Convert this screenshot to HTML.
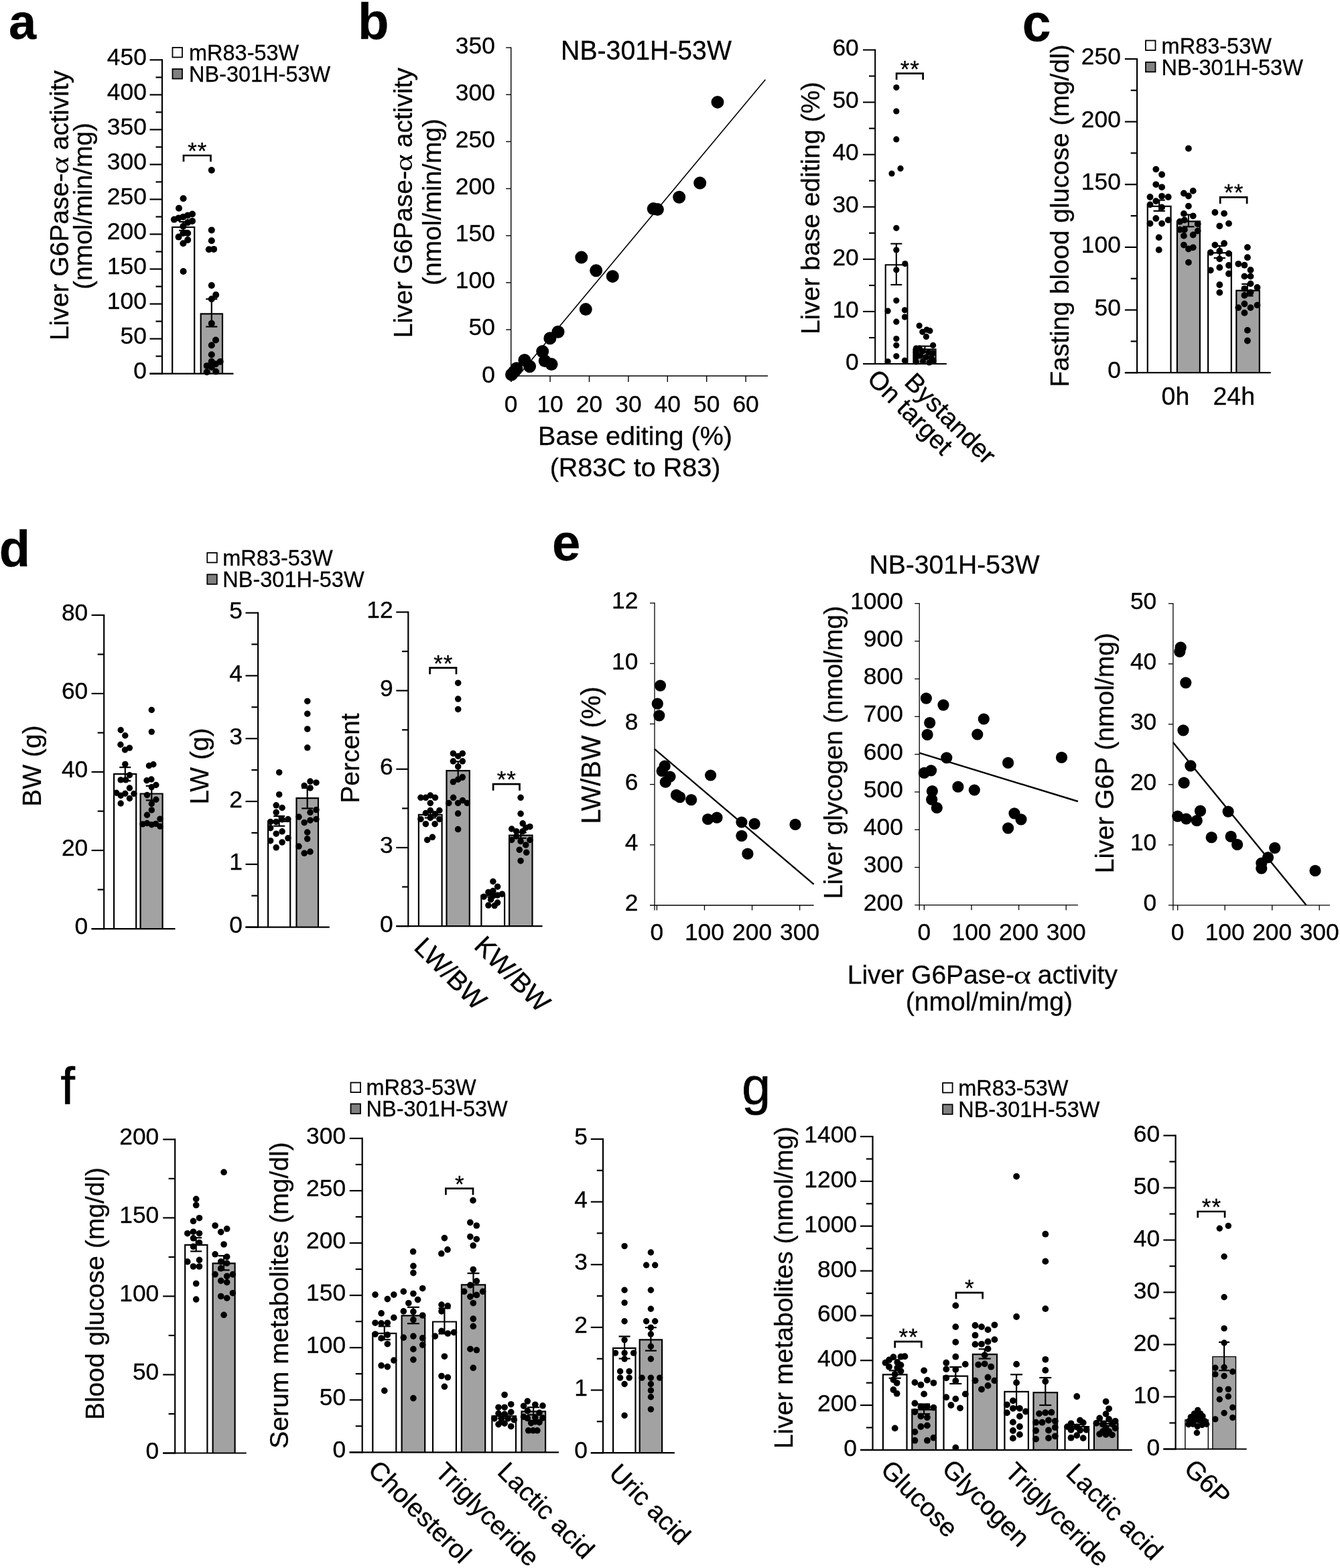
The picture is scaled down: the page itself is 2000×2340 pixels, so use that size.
<!DOCTYPE html>
<html lang="en">
<head>
<meta charset="utf-8">
<title>Figure</title>
<style>
html,body{margin:0;padding:0;background:#fff;}
body{width:2000px;height:2340px;overflow:hidden;}
svg{display:block;font-family:"Liberation Sans", Arial, Helvetica, sans-serif;fill:#000;}
text{stroke:#000;stroke-width:0.3px;}
text.pl{stroke-width:0.7px;}
text.al{stroke:none;}
</style>
</head>
<body>
<svg width="2000" height="2340" viewBox="0 0 2000 2340">
<rect x="0" y="0" width="2000" height="2340" fill="#fff"/>
<text x="13.00" y="57.50" font-size="74" text-anchor="start" font-weight="bold">a</text>
<g transform="translate(101.50 306.50) rotate(-90)" font-size="39"><text x="47.67" y="0" text-anchor="end">Liver G6Pase-</text><text class="al" transform="translate(46.55 0) scale(1.31 1)" x="0" y="0" font-size="38.22" font-family="&quot;Liberation Serif&quot;, &quot;DejaVu Serif&quot;, serif">α</text><text x="82.41" y="0" text-anchor="start">activity</text></g>
<text x="137.20" y="307.50" font-size="39" text-anchor="middle" font-weight="normal" transform="rotate(-90 137.20 307.50)">(nmol/min/mg)</text>
<rect x="257.50" y="71.00" width="14.50" height="14.50" fill="#fff" stroke="#000" stroke-width="1.8"/>
<rect x="257.50" y="103.00" width="14.50" height="14.50" fill="#808080" stroke="#000" stroke-width="1.8"/>
<text x="0" y="0" font-size="32.5" text-anchor="start" font-weight="normal" transform="translate(282.00 90.00) scale(1 1.015)">mR83-53W</text>
<text x="0" y="0" font-size="32.5" text-anchor="start" font-weight="normal" transform="translate(282.00 122.00) scale(1 1.015)">NB-301H-53W</text>
<path d="M257.20,557.60 V339.00 H290.20 V557.60" fill="#fff" stroke="#000" stroke-width="2.2"/>
<path d="M299.70,557.60 V468.30 H332.00 V557.60" fill="#a2a2a2" stroke="#000" stroke-width="2.2"/>
<line x1="273.60" y1="331.00" x2="273.60" y2="344.00" stroke="#000" stroke-width="2.2" stroke-linecap="butt"/>
<line x1="267.10" y1="331.00" x2="280.10" y2="331.00" stroke="#000" stroke-width="2.2" stroke-linecap="butt"/>
<line x1="267.10" y1="344.00" x2="280.10" y2="344.00" stroke="#000" stroke-width="2.2" stroke-linecap="butt"/>
<line x1="315.80" y1="446.30" x2="315.80" y2="487.50" stroke="#000" stroke-width="2.2" stroke-linecap="butt"/>
<line x1="307.30" y1="446.30" x2="324.30" y2="446.30" stroke="#000" stroke-width="2.2" stroke-linecap="butt"/>
<line x1="307.30" y1="487.50" x2="324.30" y2="487.50" stroke="#000" stroke-width="2.2" stroke-linecap="butt"/>
<path d="M274.00,241.20 V232.00 H314.50 V241.20" fill="none" stroke="#000" stroke-width="2.7"/>
<text x="294.75" y="237.00" font-size="35" text-anchor="middle" font-weight="normal" letter-spacing="1">**</text>
<line x1="242.00" y1="88.30" x2="242.00" y2="558.70" stroke="#000" stroke-width="2.2" stroke-linecap="butt"/>
<line x1="223.50" y1="89.40" x2="242.00" y2="89.40" stroke="#000" stroke-width="2.2" stroke-linecap="butt"/>
<text x="0" y="0" font-size="35.4" text-anchor="end" font-weight="normal" transform="translate(218.90 96.80) scale(1 1.015)">450</text>
<line x1="232.50" y1="115.41" x2="242.00" y2="115.41" stroke="#000" stroke-width="2.2" stroke-linecap="butt"/>
<line x1="223.50" y1="141.42" x2="242.00" y2="141.42" stroke="#000" stroke-width="2.2" stroke-linecap="butt"/>
<text x="0" y="0" font-size="35.4" text-anchor="end" font-weight="normal" transform="translate(218.90 148.82) scale(1 1.015)">400</text>
<line x1="232.50" y1="167.43" x2="242.00" y2="167.43" stroke="#000" stroke-width="2.2" stroke-linecap="butt"/>
<line x1="223.50" y1="193.44" x2="242.00" y2="193.44" stroke="#000" stroke-width="2.2" stroke-linecap="butt"/>
<text x="0" y="0" font-size="35.4" text-anchor="end" font-weight="normal" transform="translate(218.90 200.84) scale(1 1.015)">350</text>
<line x1="232.50" y1="219.46" x2="242.00" y2="219.46" stroke="#000" stroke-width="2.2" stroke-linecap="butt"/>
<line x1="223.50" y1="245.47" x2="242.00" y2="245.47" stroke="#000" stroke-width="2.2" stroke-linecap="butt"/>
<text x="0" y="0" font-size="35.4" text-anchor="end" font-weight="normal" transform="translate(218.90 252.87) scale(1 1.015)">300</text>
<line x1="232.50" y1="271.48" x2="242.00" y2="271.48" stroke="#000" stroke-width="2.2" stroke-linecap="butt"/>
<line x1="223.50" y1="297.49" x2="242.00" y2="297.49" stroke="#000" stroke-width="2.2" stroke-linecap="butt"/>
<text x="0" y="0" font-size="35.4" text-anchor="end" font-weight="normal" transform="translate(218.90 304.89) scale(1 1.015)">250</text>
<line x1="232.50" y1="323.50" x2="242.00" y2="323.50" stroke="#000" stroke-width="2.2" stroke-linecap="butt"/>
<line x1="223.50" y1="349.51" x2="242.00" y2="349.51" stroke="#000" stroke-width="2.2" stroke-linecap="butt"/>
<text x="0" y="0" font-size="35.4" text-anchor="end" font-weight="normal" transform="translate(218.90 356.91) scale(1 1.015)">200</text>
<line x1="232.50" y1="375.52" x2="242.00" y2="375.52" stroke="#000" stroke-width="2.2" stroke-linecap="butt"/>
<line x1="223.50" y1="401.53" x2="242.00" y2="401.53" stroke="#000" stroke-width="2.2" stroke-linecap="butt"/>
<text x="0" y="0" font-size="35.4" text-anchor="end" font-weight="normal" transform="translate(218.90 408.93) scale(1 1.015)">150</text>
<line x1="232.50" y1="427.54" x2="242.00" y2="427.54" stroke="#000" stroke-width="2.2" stroke-linecap="butt"/>
<line x1="223.50" y1="453.56" x2="242.00" y2="453.56" stroke="#000" stroke-width="2.2" stroke-linecap="butt"/>
<text x="0" y="0" font-size="35.4" text-anchor="end" font-weight="normal" transform="translate(218.90 460.96) scale(1 1.015)">100</text>
<line x1="232.50" y1="479.57" x2="242.00" y2="479.57" stroke="#000" stroke-width="2.2" stroke-linecap="butt"/>
<line x1="223.50" y1="505.58" x2="242.00" y2="505.58" stroke="#000" stroke-width="2.2" stroke-linecap="butt"/>
<text x="0" y="0" font-size="35.4" text-anchor="end" font-weight="normal" transform="translate(218.90 512.98) scale(1 1.015)">50</text>
<line x1="232.50" y1="531.59" x2="242.00" y2="531.59" stroke="#000" stroke-width="2.2" stroke-linecap="butt"/>
<line x1="223.50" y1="557.60" x2="242.00" y2="557.60" stroke="#000" stroke-width="2.2" stroke-linecap="butt"/>
<text x="0" y="0" font-size="35.4" text-anchor="end" font-weight="normal" transform="translate(218.90 565.00) scale(1 1.015)">0</text>
<line x1="223.50" y1="557.60" x2="348.50" y2="557.60" stroke="#000" stroke-width="2.2" stroke-linecap="butt"/>
<g fill="#000"><circle cx="273.6" cy="296.3" r="5"/><circle cx="267.0" cy="310.7" r="5"/><circle cx="287.0" cy="319.5" r="5"/><circle cx="280.2" cy="321.4" r="5"/><circle cx="273.4" cy="323.7" r="5"/><circle cx="266.6" cy="325.4" r="5"/><circle cx="259.9" cy="327.6" r="5"/><circle cx="287.0" cy="329.9" r="5"/><circle cx="280.2" cy="332.1" r="5"/><circle cx="273.4" cy="337.8" r="5"/><circle cx="280.2" cy="348.0" r="5"/><circle cx="273.4" cy="348.0" r="5"/><circle cx="266.6" cy="353.6" r="5"/><circle cx="280.2" cy="358.1" r="5"/><circle cx="273.4" cy="363.2" r="5"/><circle cx="273.6" cy="405.0" r="5"/><circle cx="315.8" cy="254.0" r="5"/><circle cx="315.8" cy="343.4" r="5"/><circle cx="315.8" cy="359.2" r="5"/><circle cx="311.8" cy="372.2" r="5"/><circle cx="319.1" cy="371.9" r="5"/><circle cx="315.8" cy="426.0" r="5"/><circle cx="322.2" cy="440.1" r="5"/><circle cx="315.8" cy="446.3" r="5"/><circle cx="315.8" cy="482.7" r="5"/><circle cx="322.0" cy="507.5" r="5"/><circle cx="315.8" cy="515.2" r="5"/><circle cx="315.8" cy="529.3" r="5"/><circle cx="315.8" cy="539.5" r="5"/><circle cx="328.7" cy="539.7" r="5"/><circle cx="322.0" cy="543.2" r="5"/><circle cx="308.8" cy="545.9" r="5"/><circle cx="315.8" cy="548.0" r="5"/><circle cx="308.8" cy="555.3" r="5"/><circle cx="322.2" cy="554.5" r="5"/></g>
<text x="534.00" y="58.00" font-size="76" text-anchor="start" font-weight="bold">b</text>
<text x="0" y="0" font-size="39.2" text-anchor="middle" font-weight="normal" transform="translate(964.50 89.30) scale(1 1.015)">NB-301H-53W</text>
<g transform="translate(615.40 302.70) rotate(-90)" font-size="39"><text x="47.67" y="0" text-anchor="end">Liver G6Pase-</text><text class="al" transform="translate(46.55 0) scale(1.31 1)" x="0" y="0" font-size="38.22" font-family="&quot;Liberation Serif&quot;, &quot;DejaVu Serif&quot;, serif">α</text><text x="82.41" y="0" text-anchor="start">activity</text></g>
<text x="658.00" y="301.50" font-size="39" text-anchor="middle" font-weight="normal" transform="rotate(-90 658.00 301.50)">(nmol/min/mg)</text>
<line x1="773.00" y1="561.50" x2="1142.40" y2="118.80" stroke="#000" stroke-width="1.6" stroke-linecap="butt"/>
<line x1="762.70" y1="70.40" x2="762.70" y2="570.00" stroke="#000" stroke-width="1.4" stroke-linecap="butt"/>
<line x1="755.20" y1="561.00" x2="1146.10" y2="561.00" stroke="#000" stroke-width="1.4" stroke-linecap="butt"/>
<line x1="755.20" y1="71.10" x2="762.70" y2="71.10" stroke="#000" stroke-width="1.4" stroke-linecap="butt"/>
<text x="0" y="0" font-size="35.4" text-anchor="end" font-weight="normal" transform="translate(738.90 79.60) scale(1 1.015)">350</text>
<line x1="755.20" y1="141.24" x2="762.70" y2="141.24" stroke="#000" stroke-width="1.4" stroke-linecap="butt"/>
<text x="0" y="0" font-size="35.4" text-anchor="end" font-weight="normal" transform="translate(738.90 149.74) scale(1 1.015)">300</text>
<line x1="755.20" y1="211.39" x2="762.70" y2="211.39" stroke="#000" stroke-width="1.4" stroke-linecap="butt"/>
<text x="0" y="0" font-size="35.4" text-anchor="end" font-weight="normal" transform="translate(738.90 219.89) scale(1 1.015)">250</text>
<line x1="755.20" y1="281.53" x2="762.70" y2="281.53" stroke="#000" stroke-width="1.4" stroke-linecap="butt"/>
<text x="0" y="0" font-size="35.4" text-anchor="end" font-weight="normal" transform="translate(738.90 290.03) scale(1 1.015)">200</text>
<line x1="755.20" y1="351.67" x2="762.70" y2="351.67" stroke="#000" stroke-width="1.4" stroke-linecap="butt"/>
<text x="0" y="0" font-size="35.4" text-anchor="end" font-weight="normal" transform="translate(738.90 360.17) scale(1 1.015)">150</text>
<line x1="755.20" y1="421.81" x2="762.70" y2="421.81" stroke="#000" stroke-width="1.4" stroke-linecap="butt"/>
<text x="0" y="0" font-size="35.4" text-anchor="end" font-weight="normal" transform="translate(738.90 430.31) scale(1 1.015)">100</text>
<line x1="755.20" y1="491.96" x2="762.70" y2="491.96" stroke="#000" stroke-width="1.4" stroke-linecap="butt"/>
<text x="0" y="0" font-size="35.4" text-anchor="end" font-weight="normal" transform="translate(738.90 500.46) scale(1 1.015)">50</text>
<text x="0" y="0" font-size="35.4" text-anchor="end" font-weight="normal" transform="translate(738.90 570.60) scale(1 1.015)">0</text>
<line x1="762.70" y1="561.00" x2="762.70" y2="570.00" stroke="#000" stroke-width="1.4" stroke-linecap="butt"/>
<text x="0" y="0" font-size="35.4" text-anchor="middle" font-weight="normal" transform="translate(762.70 615.20) scale(1 1.015)">0</text>
<line x1="821.10" y1="561.00" x2="821.10" y2="570.00" stroke="#000" stroke-width="1.4" stroke-linecap="butt"/>
<text x="0" y="0" font-size="35.4" text-anchor="middle" font-weight="normal" transform="translate(821.10 615.20) scale(1 1.015)">10</text>
<line x1="879.50" y1="561.00" x2="879.50" y2="570.00" stroke="#000" stroke-width="1.4" stroke-linecap="butt"/>
<text x="0" y="0" font-size="35.4" text-anchor="middle" font-weight="normal" transform="translate(879.50 615.20) scale(1 1.015)">20</text>
<line x1="937.90" y1="561.00" x2="937.90" y2="570.00" stroke="#000" stroke-width="1.4" stroke-linecap="butt"/>
<text x="0" y="0" font-size="35.4" text-anchor="middle" font-weight="normal" transform="translate(937.90 615.20) scale(1 1.015)">30</text>
<line x1="996.30" y1="561.00" x2="996.30" y2="570.00" stroke="#000" stroke-width="1.4" stroke-linecap="butt"/>
<text x="0" y="0" font-size="35.4" text-anchor="middle" font-weight="normal" transform="translate(996.30 615.20) scale(1 1.015)">40</text>
<line x1="1054.70" y1="561.00" x2="1054.70" y2="570.00" stroke="#000" stroke-width="1.4" stroke-linecap="butt"/>
<text x="0" y="0" font-size="35.4" text-anchor="middle" font-weight="normal" transform="translate(1054.70 615.20) scale(1 1.015)">50</text>
<line x1="1113.10" y1="561.00" x2="1113.10" y2="570.00" stroke="#000" stroke-width="1.4" stroke-linecap="butt"/>
<text x="0" y="0" font-size="35.4" text-anchor="middle" font-weight="normal" transform="translate(1113.10 615.20) scale(1 1.015)">60</text>
<text x="948.00" y="664.30" font-size="39.5" text-anchor="middle" font-weight="normal">Base editing (%)</text>
<text x="948.00" y="710.80" font-size="39.5" text-anchor="middle" font-weight="normal">(R83C to R83)</text>
<g fill="#000"><circle cx="1071.0" cy="152.4" r="9.5"/><circle cx="1044.7" cy="273.1" r="9.5"/><circle cx="1013.7" cy="294.2" r="9.5"/><circle cx="975.2" cy="311.6" r="9.5"/><circle cx="981.4" cy="312.6" r="9.5"/><circle cx="867.8" cy="384.1" r="9.5"/><circle cx="889.7" cy="403.7" r="9.5"/><circle cx="914.3" cy="412.4" r="9.5"/><circle cx="874.3" cy="461.6" r="9.5"/><circle cx="833.0" cy="495.2" r="9.5"/><circle cx="820.9" cy="504.8" r="9.5"/><circle cx="809.7" cy="524.5" r="9.5"/><circle cx="813.2" cy="538.6" r="9.5"/><circle cx="823.1" cy="543.6" r="9.5"/><circle cx="782.9" cy="537.4" r="9.5"/><circle cx="790.6" cy="546.8" r="9.5"/><circle cx="770.9" cy="549.8" r="9.5"/><circle cx="767.2" cy="554.8" r="9.5"/><circle cx="763.5" cy="559.0" r="9.5"/></g>
<text x="1222.70" y="310.50" font-size="39" text-anchor="middle" font-weight="normal" transform="rotate(-90 1222.70 310.50)">Liver base editing (%)</text>
<path d="M1321.70,543.00 V395.20 H1354.40 V543.00" fill="#fff" stroke="#000" stroke-width="2.1"/>
<path d="M1363.40,543.00 V521.40 H1396.60 V543.00" fill="#a2a2a2" stroke="#000" stroke-width="2.1"/>
<line x1="1337.80" y1="363.70" x2="1337.80" y2="424.90" stroke="#000" stroke-width="2.1" stroke-linecap="butt"/>
<line x1="1329.30" y1="363.70" x2="1346.30" y2="363.70" stroke="#000" stroke-width="2.1" stroke-linecap="butt"/>
<line x1="1329.30" y1="424.90" x2="1346.30" y2="424.90" stroke="#000" stroke-width="2.1" stroke-linecap="butt"/>
<line x1="1380.40" y1="516.60" x2="1380.40" y2="525.50" stroke="#000" stroke-width="2.1" stroke-linecap="butt"/>
<line x1="1371.90" y1="516.60" x2="1388.90" y2="516.60" stroke="#000" stroke-width="2.1" stroke-linecap="butt"/>
<line x1="1371.90" y1="525.50" x2="1388.90" y2="525.50" stroke="#000" stroke-width="2.1" stroke-linecap="butt"/>
<line x1="1306.20" y1="73.45" x2="1306.20" y2="544.05" stroke="#000" stroke-width="2.1" stroke-linecap="butt"/>
<line x1="1288.00" y1="74.50" x2="1306.20" y2="74.50" stroke="#000" stroke-width="2.1" stroke-linecap="butt"/>
<text x="0" y="0" font-size="35.4" text-anchor="end" font-weight="normal" transform="translate(1281.80 83.20) scale(1 1.015)">60</text>
<line x1="1297.00" y1="113.54" x2="1306.20" y2="113.54" stroke="#000" stroke-width="2.1" stroke-linecap="butt"/>
<line x1="1288.00" y1="152.58" x2="1306.20" y2="152.58" stroke="#000" stroke-width="2.1" stroke-linecap="butt"/>
<text x="0" y="0" font-size="35.4" text-anchor="end" font-weight="normal" transform="translate(1281.80 161.28) scale(1 1.015)">50</text>
<line x1="1297.00" y1="191.62" x2="1306.20" y2="191.62" stroke="#000" stroke-width="2.1" stroke-linecap="butt"/>
<line x1="1288.00" y1="230.67" x2="1306.20" y2="230.67" stroke="#000" stroke-width="2.1" stroke-linecap="butt"/>
<text x="0" y="0" font-size="35.4" text-anchor="end" font-weight="normal" transform="translate(1281.80 239.37) scale(1 1.015)">40</text>
<line x1="1297.00" y1="269.71" x2="1306.20" y2="269.71" stroke="#000" stroke-width="2.1" stroke-linecap="butt"/>
<line x1="1288.00" y1="308.75" x2="1306.20" y2="308.75" stroke="#000" stroke-width="2.1" stroke-linecap="butt"/>
<text x="0" y="0" font-size="35.4" text-anchor="end" font-weight="normal" transform="translate(1281.80 317.45) scale(1 1.015)">30</text>
<line x1="1297.00" y1="347.79" x2="1306.20" y2="347.79" stroke="#000" stroke-width="2.1" stroke-linecap="butt"/>
<line x1="1288.00" y1="386.83" x2="1306.20" y2="386.83" stroke="#000" stroke-width="2.1" stroke-linecap="butt"/>
<text x="0" y="0" font-size="35.4" text-anchor="end" font-weight="normal" transform="translate(1281.80 395.53) scale(1 1.015)">20</text>
<line x1="1297.00" y1="425.88" x2="1306.20" y2="425.88" stroke="#000" stroke-width="2.1" stroke-linecap="butt"/>
<line x1="1288.00" y1="464.92" x2="1306.20" y2="464.92" stroke="#000" stroke-width="2.1" stroke-linecap="butt"/>
<text x="0" y="0" font-size="35.4" text-anchor="end" font-weight="normal" transform="translate(1281.80 473.62) scale(1 1.015)">10</text>
<line x1="1297.00" y1="503.96" x2="1306.20" y2="503.96" stroke="#000" stroke-width="2.1" stroke-linecap="butt"/>
<line x1="1288.00" y1="543.00" x2="1306.20" y2="543.00" stroke="#000" stroke-width="2.1" stroke-linecap="butt"/>
<text x="0" y="0" font-size="35.4" text-anchor="end" font-weight="normal" transform="translate(1281.80 551.70) scale(1 1.015)">0</text>
<line x1="1288.00" y1="543.00" x2="1412.90" y2="543.00" stroke="#000" stroke-width="2.1" stroke-linecap="butt"/>
<path d="M1338.10,119.00 V109.60 H1377.60 V119.00" fill="none" stroke="#000" stroke-width="2.7"/>
<text x="1358.35" y="114.60" font-size="35" text-anchor="middle" font-weight="normal" letter-spacing="1">**</text>
<g fill="#000"><circle cx="1337.8" cy="130.6" r="4.6"/><circle cx="1337.8" cy="166.0" r="4.6"/><circle cx="1337.8" cy="207.9" r="4.6"/><circle cx="1344.0" cy="251.4" r="4.6"/><circle cx="1331.0" cy="259.0" r="4.6"/><circle cx="1337.8" cy="340.3" r="4.6"/><circle cx="1337.8" cy="373.0" r="4.6"/><circle cx="1350.8" cy="393.6" r="4.6"/><circle cx="1337.8" cy="402.8" r="4.6"/><circle cx="1337.8" cy="448.6" r="4.6"/><circle cx="1325.1" cy="464.1" r="4.6"/><circle cx="1350.4" cy="462.8" r="4.6"/><circle cx="1350.4" cy="473.1" r="4.6"/><circle cx="1337.8" cy="480.2" r="4.6"/><circle cx="1337.8" cy="505.5" r="4.6"/><circle cx="1337.8" cy="515.3" r="4.6"/><circle cx="1337.8" cy="531.6" r="4.6"/><circle cx="1325.1" cy="539.5" r="4.6"/><circle cx="1350.4" cy="538.0" r="4.6"/><circle cx="1372.1" cy="486.1" r="4.6"/><circle cx="1383.2" cy="492.1" r="4.6"/><circle cx="1376.8" cy="495.3" r="4.6"/><circle cx="1387.9" cy="493.7" r="4.6"/><circle cx="1382.4" cy="502.4" r="4.6"/><circle cx="1392.6" cy="515.3" r="4.6"/><circle cx="1367.4" cy="519.8" r="4.6"/><circle cx="1372.1" cy="519.8" r="4.6"/><circle cx="1367.4" cy="526.0" r="4.6"/><circle cx="1377.0" cy="524.0" r="4.6"/><circle cx="1386.0" cy="526.0" r="4.6"/><circle cx="1392.6" cy="527.0" r="4.6"/><circle cx="1367.4" cy="533.0" r="4.6"/><circle cx="1374.0" cy="531.0" r="4.6"/><circle cx="1382.0" cy="533.0" r="4.6"/><circle cx="1390.0" cy="534.0" r="4.6"/><circle cx="1367.4" cy="540.0" r="4.6"/><circle cx="1377.5" cy="539.5" r="4.6"/><circle cx="1387.0" cy="541.0" r="4.6"/><circle cx="1393.0" cy="538.0" r="4.6"/></g>
<text x="1292.50" y="567.50" font-size="38.5" text-anchor="start" font-weight="normal" transform="rotate(45 1292.50 567.50)">On target</text>
<text x="1348.00" y="572.60" font-size="38.5" text-anchor="start" font-weight="normal" transform="rotate(45 1348.00 572.60)">Bystander</text>
<text x="1525.70" y="61.40" font-size="77" text-anchor="start" font-weight="bold">c</text>
<text x="1594.50" y="322.00" font-size="39" text-anchor="middle" font-weight="normal" transform="rotate(-90 1594.50 322.00)">Fasting blood glucose (mg/dl)</text>
<rect x="1710.00" y="60.50" width="14.50" height="14.50" fill="#fff" stroke="#000" stroke-width="1.8"/>
<rect x="1710.00" y="92.80" width="14.50" height="14.50" fill="#808080" stroke="#000" stroke-width="1.8"/>
<text x="0" y="0" font-size="32.5" text-anchor="start" font-weight="normal" transform="translate(1733.60 79.50) scale(1 1.015)">mR83-53W</text>
<text x="0" y="0" font-size="32.5" text-anchor="start" font-weight="normal" transform="translate(1733.60 111.80) scale(1 1.015)">NB-301H-53W</text>
<path d="M1712.80,556.20 V307.90 H1747.50 V556.20" fill="#fff" stroke="#000" stroke-width="2.2"/>
<path d="M1756.90,556.20 V330.40 H1790.90 V556.20" fill="#a2a2a2" stroke="#000" stroke-width="2.2"/>
<path d="M1803.10,556.20 V377.30 H1837.80 V556.20" fill="#fff" stroke="#000" stroke-width="2.2"/>
<path d="M1845.30,556.20 V433.70 H1879.80 V556.20" fill="#a2a2a2" stroke="#000" stroke-width="2.2"/>
<line x1="1730.20" y1="298.60" x2="1730.20" y2="314.80" stroke="#000" stroke-width="2.2" stroke-linecap="butt"/>
<line x1="1721.55" y1="298.60" x2="1738.85" y2="298.60" stroke="#000" stroke-width="2.2" stroke-linecap="butt"/>
<line x1="1721.55" y1="314.80" x2="1738.85" y2="314.80" stroke="#000" stroke-width="2.2" stroke-linecap="butt"/>
<line x1="1773.90" y1="320.40" x2="1773.90" y2="338.30" stroke="#000" stroke-width="2.2" stroke-linecap="butt"/>
<line x1="1765.25" y1="320.40" x2="1782.55" y2="320.40" stroke="#000" stroke-width="2.2" stroke-linecap="butt"/>
<line x1="1765.25" y1="338.30" x2="1782.55" y2="338.30" stroke="#000" stroke-width="2.2" stroke-linecap="butt"/>
<line x1="1820.30" y1="367.10" x2="1820.30" y2="385.00" stroke="#000" stroke-width="2.2" stroke-linecap="butt"/>
<line x1="1811.65" y1="367.10" x2="1828.95" y2="367.10" stroke="#000" stroke-width="2.2" stroke-linecap="butt"/>
<line x1="1811.65" y1="385.00" x2="1828.95" y2="385.00" stroke="#000" stroke-width="2.2" stroke-linecap="butt"/>
<line x1="1861.90" y1="423.90" x2="1861.90" y2="441.50" stroke="#000" stroke-width="2.2" stroke-linecap="butt"/>
<line x1="1853.25" y1="423.90" x2="1870.55" y2="423.90" stroke="#000" stroke-width="2.2" stroke-linecap="butt"/>
<line x1="1853.25" y1="441.50" x2="1870.55" y2="441.50" stroke="#000" stroke-width="2.2" stroke-linecap="butt"/>
<line x1="1697.10" y1="86.90" x2="1697.10" y2="557.30" stroke="#000" stroke-width="2.2" stroke-linecap="butt"/>
<line x1="1678.90" y1="88.00" x2="1697.10" y2="88.00" stroke="#000" stroke-width="2.2" stroke-linecap="butt"/>
<text x="0" y="0" font-size="35.4" text-anchor="end" font-weight="normal" transform="translate(1672.90 96.00) scale(1 1.015)">250</text>
<line x1="1687.70" y1="134.82" x2="1697.10" y2="134.82" stroke="#000" stroke-width="2.2" stroke-linecap="butt"/>
<line x1="1678.90" y1="181.64" x2="1697.10" y2="181.64" stroke="#000" stroke-width="2.2" stroke-linecap="butt"/>
<text x="0" y="0" font-size="35.4" text-anchor="end" font-weight="normal" transform="translate(1672.90 189.64) scale(1 1.015)">200</text>
<line x1="1687.70" y1="228.46" x2="1697.10" y2="228.46" stroke="#000" stroke-width="2.2" stroke-linecap="butt"/>
<line x1="1678.90" y1="275.28" x2="1697.10" y2="275.28" stroke="#000" stroke-width="2.2" stroke-linecap="butt"/>
<text x="0" y="0" font-size="35.4" text-anchor="end" font-weight="normal" transform="translate(1672.90 283.28) scale(1 1.015)">150</text>
<line x1="1687.70" y1="322.10" x2="1697.10" y2="322.10" stroke="#000" stroke-width="2.2" stroke-linecap="butt"/>
<line x1="1678.90" y1="368.92" x2="1697.10" y2="368.92" stroke="#000" stroke-width="2.2" stroke-linecap="butt"/>
<text x="0" y="0" font-size="35.4" text-anchor="end" font-weight="normal" transform="translate(1672.90 376.92) scale(1 1.015)">100</text>
<line x1="1687.70" y1="415.74" x2="1697.10" y2="415.74" stroke="#000" stroke-width="2.2" stroke-linecap="butt"/>
<line x1="1678.90" y1="462.56" x2="1697.10" y2="462.56" stroke="#000" stroke-width="2.2" stroke-linecap="butt"/>
<text x="0" y="0" font-size="35.4" text-anchor="end" font-weight="normal" transform="translate(1672.90 470.56) scale(1 1.015)">50</text>
<line x1="1687.70" y1="509.38" x2="1697.10" y2="509.38" stroke="#000" stroke-width="2.2" stroke-linecap="butt"/>
<line x1="1678.90" y1="556.20" x2="1697.10" y2="556.20" stroke="#000" stroke-width="2.2" stroke-linecap="butt"/>
<text x="0" y="0" font-size="35.4" text-anchor="end" font-weight="normal" transform="translate(1672.90 564.20) scale(1 1.015)">0</text>
<line x1="1678.90" y1="556.20" x2="1896.70" y2="556.20" stroke="#000" stroke-width="2.2" stroke-linecap="butt"/>
<path d="M1821.20,304.00 V294.40 H1861.10 V304.00" fill="none" stroke="#000" stroke-width="2.7"/>
<text x="1841.65" y="299.40" font-size="35" text-anchor="middle" font-weight="normal" letter-spacing="1">**</text>
<text x="1754.40" y="603.70" font-size="37.5" text-anchor="middle" font-weight="normal">0h</text>
<text x="1841.80" y="603.70" font-size="37.5" text-anchor="middle" font-weight="normal">24h</text>
<g fill="#000"><circle cx="1725.3" cy="252.6" r="4.9"/><circle cx="1734.1" cy="260.5" r="4.9"/><circle cx="1725.3" cy="275.3" r="4.9"/><circle cx="1734.1" cy="279.3" r="4.9"/><circle cx="1716.5" cy="294.0" r="4.9"/><circle cx="1734.1" cy="292.8" r="4.9"/><circle cx="1743.7" cy="294.0" r="4.9"/><circle cx="1725.3" cy="300.1" r="4.9"/><circle cx="1716.5" cy="305.4" r="4.9"/><circle cx="1734.1" cy="309.4" r="4.9"/><circle cx="1725.3" cy="326.0" r="4.9"/><circle cx="1743.7" cy="328.4" r="4.9"/><circle cx="1716.5" cy="333.6" r="4.9"/><circle cx="1734.1" cy="333.6" r="4.9"/><circle cx="1729.7" cy="354.4" r="4.9"/><circle cx="1729.7" cy="372.9" r="4.9"/><circle cx="1773.9" cy="221.6" r="4.9"/><circle cx="1780.7" cy="284.9" r="4.9"/><circle cx="1766.9" cy="288.5" r="4.9"/><circle cx="1773.9" cy="292.5" r="4.9"/><circle cx="1773.9" cy="307.6" r="4.9"/><circle cx="1766.9" cy="318.9" r="4.9"/><circle cx="1780.7" cy="322.3" r="4.9"/><circle cx="1767.9" cy="328.4" r="4.9"/><circle cx="1761.0" cy="330.7" r="4.9"/><circle cx="1787.7" cy="334.3" r="4.9"/><circle cx="1761.0" cy="342.7" r="4.9"/><circle cx="1767.9" cy="342.7" r="4.9"/><circle cx="1787.7" cy="344.6" r="4.9"/><circle cx="1766.9" cy="351.9" r="4.9"/><circle cx="1780.7" cy="350.5" r="4.9"/><circle cx="1766.9" cy="365.6" r="4.9"/><circle cx="1780.7" cy="369.3" r="4.9"/><circle cx="1773.9" cy="371.5" r="4.9"/><circle cx="1773.9" cy="391.6" r="4.9"/><circle cx="1813.4" cy="317.0" r="4.9"/><circle cx="1827.1" cy="318.6" r="4.9"/><circle cx="1834.0" cy="333.6" r="4.9"/><circle cx="1820.3" cy="337.3" r="4.9"/><circle cx="1827.1" cy="363.2" r="4.9"/><circle cx="1813.4" cy="365.6" r="4.9"/><circle cx="1820.3" cy="374.7" r="4.9"/><circle cx="1806.8" cy="376.9" r="4.9"/><circle cx="1834.0" cy="378.4" r="4.9"/><circle cx="1820.3" cy="386.4" r="4.9"/><circle cx="1834.0" cy="396.0" r="4.9"/><circle cx="1820.3" cy="399.2" r="4.9"/><circle cx="1806.8" cy="403.3" r="4.9"/><circle cx="1834.0" cy="408.5" r="4.9"/><circle cx="1820.3" cy="425.0" r="4.9"/><circle cx="1820.3" cy="436.6" r="4.9"/><circle cx="1861.9" cy="369.1" r="4.9"/><circle cx="1861.9" cy="384.2" r="4.9"/><circle cx="1848.3" cy="393.8" r="4.9"/><circle cx="1857.4" cy="395.7" r="4.9"/><circle cx="1866.5" cy="403.0" r="4.9"/><circle cx="1857.4" cy="412.4" r="4.9"/><circle cx="1866.5" cy="412.4" r="4.9"/><circle cx="1866.5" cy="423.4" r="4.9"/><circle cx="1876.5" cy="429.0" r="4.9"/><circle cx="1857.4" cy="430.8" r="4.9"/><circle cx="1866.5" cy="436.3" r="4.9"/><circle cx="1857.4" cy="440.8" r="4.9"/><circle cx="1857.4" cy="453.5" r="4.9"/><circle cx="1876.5" cy="455.4" r="4.9"/><circle cx="1848.3" cy="459.1" r="4.9"/><circle cx="1866.5" cy="459.1" r="4.9"/><circle cx="1857.4" cy="466.9" r="4.9"/><circle cx="1861.9" cy="492.9" r="4.9"/><circle cx="1861.9" cy="508.5" r="4.9"/></g>
<text x="-1.30" y="845.30" font-size="76" text-anchor="start" font-weight="bold">d</text>
<rect x="309.30" y="825.00" width="14.50" height="14.50" fill="#fff" stroke="#000" stroke-width="1.8"/>
<rect x="309.30" y="857.30" width="14.50" height="14.50" fill="#808080" stroke="#000" stroke-width="1.8"/>
<text x="0" y="0" font-size="32.5" text-anchor="start" font-weight="normal" transform="translate(332.30 844.00) scale(1 1.015)">mR83-53W</text>
<text x="0" y="0" font-size="32.5" text-anchor="start" font-weight="normal" transform="translate(332.30 876.30) scale(1 1.015)">NB-301H-53W</text>
<text x="61.20" y="1143.00" font-size="39" text-anchor="middle" font-weight="normal" transform="rotate(-90 61.20 1143.00)">BW (g)</text>
<path d="M170.10,1386.10 V1155.20 H203.20 V1386.10" fill="#fff" stroke="#000" stroke-width="2.2"/>
<path d="M209.60,1386.10 V1184.50 H242.60 V1386.10" fill="#a2a2a2" stroke="#000" stroke-width="2.2"/>
<line x1="186.80" y1="1145.10" x2="186.80" y2="1165.30" stroke="#000" stroke-width="2.2" stroke-linecap="butt"/>
<line x1="178.30" y1="1145.10" x2="195.30" y2="1145.10" stroke="#000" stroke-width="2.2" stroke-linecap="butt"/>
<line x1="178.30" y1="1165.30" x2="195.30" y2="1165.30" stroke="#000" stroke-width="2.2" stroke-linecap="butt"/>
<line x1="226.30" y1="1172.90" x2="226.30" y2="1194.30" stroke="#000" stroke-width="2.2" stroke-linecap="butt"/>
<line x1="217.80" y1="1172.90" x2="234.80" y2="1172.90" stroke="#000" stroke-width="2.2" stroke-linecap="butt"/>
<line x1="217.80" y1="1194.30" x2="234.80" y2="1194.30" stroke="#000" stroke-width="2.2" stroke-linecap="butt"/>
<line x1="155.20" y1="916.90" x2="155.20" y2="1387.20" stroke="#000" stroke-width="2.2" stroke-linecap="butt"/>
<line x1="136.60" y1="918.00" x2="155.20" y2="918.00" stroke="#000" stroke-width="2.2" stroke-linecap="butt"/>
<text x="0" y="0" font-size="35.4" text-anchor="end" font-weight="normal" transform="translate(131.30 926.20) scale(1 1.015)">80</text>
<line x1="145.70" y1="976.51" x2="155.20" y2="976.51" stroke="#000" stroke-width="2.2" stroke-linecap="butt"/>
<line x1="136.60" y1="1035.03" x2="155.20" y2="1035.03" stroke="#000" stroke-width="2.2" stroke-linecap="butt"/>
<text x="0" y="0" font-size="35.4" text-anchor="end" font-weight="normal" transform="translate(131.30 1043.23) scale(1 1.015)">60</text>
<line x1="145.70" y1="1093.54" x2="155.20" y2="1093.54" stroke="#000" stroke-width="2.2" stroke-linecap="butt"/>
<line x1="136.60" y1="1152.05" x2="155.20" y2="1152.05" stroke="#000" stroke-width="2.2" stroke-linecap="butt"/>
<text x="0" y="0" font-size="35.4" text-anchor="end" font-weight="normal" transform="translate(131.30 1160.25) scale(1 1.015)">40</text>
<line x1="145.70" y1="1210.56" x2="155.20" y2="1210.56" stroke="#000" stroke-width="2.2" stroke-linecap="butt"/>
<line x1="136.60" y1="1269.07" x2="155.20" y2="1269.07" stroke="#000" stroke-width="2.2" stroke-linecap="butt"/>
<text x="0" y="0" font-size="35.4" text-anchor="end" font-weight="normal" transform="translate(131.30 1277.27) scale(1 1.015)">20</text>
<line x1="145.70" y1="1327.59" x2="155.20" y2="1327.59" stroke="#000" stroke-width="2.2" stroke-linecap="butt"/>
<line x1="136.60" y1="1386.10" x2="155.20" y2="1386.10" stroke="#000" stroke-width="2.2" stroke-linecap="butt"/>
<text x="0" y="0" font-size="35.4" text-anchor="end" font-weight="normal" transform="translate(131.30 1394.30) scale(1 1.015)">0</text>
<line x1="136.60" y1="1386.10" x2="261.50" y2="1386.10" stroke="#000" stroke-width="2.2" stroke-linecap="butt"/>
<g fill="#000"><circle cx="180.2" cy="1089.5" r="4.7"/><circle cx="186.8" cy="1097.7" r="4.7"/><circle cx="179.9" cy="1111.2" r="4.7"/><circle cx="193.4" cy="1116.1" r="4.7"/><circle cx="186.5" cy="1119.0" r="4.7"/><circle cx="186.8" cy="1140.4" r="4.7"/><circle cx="193.4" cy="1156.7" r="4.7"/><circle cx="180.2" cy="1163.9" r="4.7"/><circle cx="187.7" cy="1163.9" r="4.7"/><circle cx="193.4" cy="1176.0" r="4.7"/><circle cx="173.8" cy="1183.3" r="4.7"/><circle cx="186.8" cy="1184.2" r="4.7"/><circle cx="199.9" cy="1184.5" r="4.7"/><circle cx="180.2" cy="1187.3" r="4.7"/><circle cx="193.4" cy="1191.5" r="4.7"/><circle cx="180.2" cy="1199.0" r="4.7"/><circle cx="226.3" cy="1059.5" r="4.7"/><circle cx="226.3" cy="1092.1" r="4.7"/><circle cx="228.9" cy="1140.8" r="4.7"/><circle cx="222.4" cy="1142.8" r="4.7"/><circle cx="225.9" cy="1163.0" r="4.7"/><circle cx="219.0" cy="1164.7" r="4.7"/><circle cx="232.9" cy="1171.5" r="4.7"/><circle cx="226.3" cy="1174.6" r="4.7"/><circle cx="219.5" cy="1186.5" r="4.7"/><circle cx="232.9" cy="1193.2" r="4.7"/><circle cx="226.3" cy="1199.5" r="4.7"/><circle cx="226.3" cy="1208.9" r="4.7"/><circle cx="219.5" cy="1216.3" r="4.7"/><circle cx="238.9" cy="1222.1" r="4.7"/><circle cx="213.0" cy="1229.9" r="4.7"/><circle cx="219.5" cy="1228.5" r="4.7"/><circle cx="226.3" cy="1230.8" r="4.7"/><circle cx="232.5" cy="1229.4" r="4.7"/><circle cx="238.9" cy="1233.2" r="4.7"/></g>
<text x="311.00" y="1143.40" font-size="39" text-anchor="middle" font-weight="normal" transform="rotate(-90 311.00 1143.40)">LW (g)</text>
<path d="M400.10,1383.60 V1225.90 H433.20 V1383.60" fill="#fff" stroke="#000" stroke-width="2.2"/>
<path d="M442.50,1383.60 V1191.20 H475.00 V1383.60" fill="#a2a2a2" stroke="#000" stroke-width="2.2"/>
<line x1="416.70" y1="1217.90" x2="416.70" y2="1232.70" stroke="#000" stroke-width="2.2" stroke-linecap="butt"/>
<line x1="408.20" y1="1217.90" x2="425.20" y2="1217.90" stroke="#000" stroke-width="2.2" stroke-linecap="butt"/>
<line x1="408.20" y1="1232.70" x2="425.20" y2="1232.70" stroke="#000" stroke-width="2.2" stroke-linecap="butt"/>
<line x1="458.70" y1="1176.00" x2="458.70" y2="1206.40" stroke="#000" stroke-width="2.2" stroke-linecap="butt"/>
<line x1="450.20" y1="1176.00" x2="467.20" y2="1176.00" stroke="#000" stroke-width="2.2" stroke-linecap="butt"/>
<line x1="450.20" y1="1206.40" x2="467.20" y2="1206.40" stroke="#000" stroke-width="2.2" stroke-linecap="butt"/>
<line x1="385.10" y1="913.50" x2="385.10" y2="1384.70" stroke="#000" stroke-width="2.2" stroke-linecap="butt"/>
<line x1="366.50" y1="914.60" x2="385.10" y2="914.60" stroke="#000" stroke-width="2.2" stroke-linecap="butt"/>
<text x="0" y="0" font-size="35.4" text-anchor="end" font-weight="normal" transform="translate(361.90 923.10) scale(1 1.015)">5</text>
<line x1="375.40" y1="961.50" x2="385.10" y2="961.50" stroke="#000" stroke-width="2.2" stroke-linecap="butt"/>
<line x1="366.50" y1="1008.40" x2="385.10" y2="1008.40" stroke="#000" stroke-width="2.2" stroke-linecap="butt"/>
<text x="0" y="0" font-size="35.4" text-anchor="end" font-weight="normal" transform="translate(361.90 1016.90) scale(1 1.015)">4</text>
<line x1="375.40" y1="1055.30" x2="385.10" y2="1055.30" stroke="#000" stroke-width="2.2" stroke-linecap="butt"/>
<line x1="366.50" y1="1102.20" x2="385.10" y2="1102.20" stroke="#000" stroke-width="2.2" stroke-linecap="butt"/>
<text x="0" y="0" font-size="35.4" text-anchor="end" font-weight="normal" transform="translate(361.90 1110.70) scale(1 1.015)">3</text>
<line x1="375.40" y1="1149.10" x2="385.10" y2="1149.10" stroke="#000" stroke-width="2.2" stroke-linecap="butt"/>
<line x1="366.50" y1="1196.00" x2="385.10" y2="1196.00" stroke="#000" stroke-width="2.2" stroke-linecap="butt"/>
<text x="0" y="0" font-size="35.4" text-anchor="end" font-weight="normal" transform="translate(361.90 1204.50) scale(1 1.015)">2</text>
<line x1="375.40" y1="1242.90" x2="385.10" y2="1242.90" stroke="#000" stroke-width="2.2" stroke-linecap="butt"/>
<line x1="366.50" y1="1289.80" x2="385.10" y2="1289.80" stroke="#000" stroke-width="2.2" stroke-linecap="butt"/>
<text x="0" y="0" font-size="35.4" text-anchor="end" font-weight="normal" transform="translate(361.90 1298.30) scale(1 1.015)">1</text>
<line x1="375.40" y1="1336.70" x2="385.10" y2="1336.70" stroke="#000" stroke-width="2.2" stroke-linecap="butt"/>
<line x1="366.50" y1="1383.60" x2="385.10" y2="1383.60" stroke="#000" stroke-width="2.2" stroke-linecap="butt"/>
<text x="0" y="0" font-size="35.4" text-anchor="end" font-weight="normal" transform="translate(361.90 1392.10) scale(1 1.015)">0</text>
<line x1="366.50" y1="1383.60" x2="491.80" y2="1383.60" stroke="#000" stroke-width="2.2" stroke-linecap="butt"/>
<g fill="#000"><circle cx="416.7" cy="1152.7" r="4.75"/><circle cx="416.7" cy="1185.7" r="4.75"/><circle cx="412.2" cy="1201.8" r="4.75"/><circle cx="421.1" cy="1205.5" r="4.75"/><circle cx="412.2" cy="1212.3" r="4.75"/><circle cx="403.7" cy="1226.4" r="4.75"/><circle cx="412.2" cy="1226.4" r="4.75"/><circle cx="421.1" cy="1223.0" r="4.75"/><circle cx="429.9" cy="1222.5" r="4.75"/><circle cx="403.7" cy="1235.7" r="4.75"/><circle cx="421.1" cy="1240.8" r="4.75"/><circle cx="412.2" cy="1244.2" r="4.75"/><circle cx="429.9" cy="1250.8" r="4.75"/><circle cx="403.7" cy="1254.7" r="4.75"/><circle cx="421.1" cy="1256.9" r="4.75"/><circle cx="412.2" cy="1264.8" r="4.75"/><circle cx="458.8" cy="1046.4" r="4.75"/><circle cx="458.8" cy="1065.2" r="4.75"/><circle cx="458.8" cy="1087.9" r="4.75"/><circle cx="458.8" cy="1115.8" r="4.75"/><circle cx="463.0" cy="1166.1" r="4.75"/><circle cx="472.0" cy="1167.9" r="4.75"/><circle cx="454.2" cy="1172.5" r="4.75"/><circle cx="463.0" cy="1175.9" r="4.75"/><circle cx="472.0" cy="1208.6" r="4.75"/><circle cx="463.0" cy="1212.3" r="4.75"/><circle cx="446.0" cy="1219.1" r="4.75"/><circle cx="463.0" cy="1224.2" r="4.75"/><circle cx="472.0" cy="1222.5" r="4.75"/><circle cx="454.2" cy="1227.6" r="4.75"/><circle cx="458.7" cy="1242.0" r="4.75"/><circle cx="458.7" cy="1251.8" r="4.75"/><circle cx="446.0" cy="1263.1" r="4.75"/><circle cx="463.0" cy="1271.1" r="4.75"/><circle cx="454.2" cy="1273.3" r="4.75"/></g>
<text x="536.30" y="1131.50" font-size="39" text-anchor="middle" font-weight="normal" transform="rotate(-90 536.30 1131.50)">Percent</text>
<path d="M624.90,1382.10 V1215.90 H659.60 V1382.10" fill="#fff" stroke="#000" stroke-width="2.2"/>
<path d="M666.50,1382.10 V1150.20 H700.80 V1382.10" fill="#a2a2a2" stroke="#000" stroke-width="2.2"/>
<path d="M718.40,1382.10 V1336.40 H753.10 V1382.10" fill="#fff" stroke="#000" stroke-width="2.2"/>
<path d="M760.10,1382.10 V1246.60 H794.50 V1382.10" fill="#a2a2a2" stroke="#000" stroke-width="2.2"/>
<line x1="642.30" y1="1211.50" x2="642.30" y2="1220.50" stroke="#000" stroke-width="2.2" stroke-linecap="butt"/>
<line x1="633.80" y1="1211.50" x2="650.80" y2="1211.50" stroke="#000" stroke-width="2.2" stroke-linecap="butt"/>
<line x1="633.80" y1="1220.50" x2="650.80" y2="1220.50" stroke="#000" stroke-width="2.2" stroke-linecap="butt"/>
<line x1="683.70" y1="1136.50" x2="683.70" y2="1163.50" stroke="#000" stroke-width="2.2" stroke-linecap="butt"/>
<line x1="675.20" y1="1136.50" x2="692.20" y2="1136.50" stroke="#000" stroke-width="2.2" stroke-linecap="butt"/>
<line x1="675.20" y1="1163.50" x2="692.20" y2="1163.50" stroke="#000" stroke-width="2.2" stroke-linecap="butt"/>
<line x1="735.90" y1="1334.20" x2="735.90" y2="1338.60" stroke="#000" stroke-width="2.2" stroke-linecap="butt"/>
<line x1="727.40" y1="1334.20" x2="744.40" y2="1334.20" stroke="#000" stroke-width="2.2" stroke-linecap="butt"/>
<line x1="727.40" y1="1338.60" x2="744.40" y2="1338.60" stroke="#000" stroke-width="2.2" stroke-linecap="butt"/>
<line x1="777.30" y1="1242.40" x2="777.30" y2="1250.80" stroke="#000" stroke-width="2.2" stroke-linecap="butt"/>
<line x1="768.80" y1="1242.40" x2="785.80" y2="1242.40" stroke="#000" stroke-width="2.2" stroke-linecap="butt"/>
<line x1="768.80" y1="1250.80" x2="785.80" y2="1250.80" stroke="#000" stroke-width="2.2" stroke-linecap="butt"/>
<line x1="609.30" y1="912.40" x2="609.30" y2="1383.20" stroke="#000" stroke-width="2.2" stroke-linecap="butt"/>
<line x1="591.30" y1="913.50" x2="609.30" y2="913.50" stroke="#000" stroke-width="2.2" stroke-linecap="butt"/>
<text x="0" y="0" font-size="35.4" text-anchor="end" font-weight="normal" transform="translate(586.70 922.00) scale(1 1.015)">12</text>
<line x1="600.10" y1="972.08" x2="609.30" y2="972.08" stroke="#000" stroke-width="2.2" stroke-linecap="butt"/>
<line x1="591.30" y1="1030.65" x2="609.30" y2="1030.65" stroke="#000" stroke-width="2.2" stroke-linecap="butt"/>
<text x="0" y="0" font-size="35.4" text-anchor="end" font-weight="normal" transform="translate(586.70 1039.15) scale(1 1.015)">9</text>
<line x1="600.10" y1="1089.23" x2="609.30" y2="1089.23" stroke="#000" stroke-width="2.2" stroke-linecap="butt"/>
<line x1="591.30" y1="1147.80" x2="609.30" y2="1147.80" stroke="#000" stroke-width="2.2" stroke-linecap="butt"/>
<text x="0" y="0" font-size="35.4" text-anchor="end" font-weight="normal" transform="translate(586.70 1156.30) scale(1 1.015)">6</text>
<line x1="600.10" y1="1206.38" x2="609.30" y2="1206.38" stroke="#000" stroke-width="2.2" stroke-linecap="butt"/>
<line x1="591.30" y1="1264.95" x2="609.30" y2="1264.95" stroke="#000" stroke-width="2.2" stroke-linecap="butt"/>
<text x="0" y="0" font-size="35.4" text-anchor="end" font-weight="normal" transform="translate(586.70 1273.45) scale(1 1.015)">3</text>
<line x1="600.10" y1="1323.52" x2="609.30" y2="1323.52" stroke="#000" stroke-width="2.2" stroke-linecap="butt"/>
<line x1="591.30" y1="1382.10" x2="609.30" y2="1382.10" stroke="#000" stroke-width="2.2" stroke-linecap="butt"/>
<text x="0" y="0" font-size="35.4" text-anchor="end" font-weight="normal" transform="translate(586.70 1390.60) scale(1 1.015)">0</text>
<line x1="591.30" y1="1382.10" x2="809.60" y2="1382.10" stroke="#000" stroke-width="2.2" stroke-linecap="butt"/>
<path d="M641.60,1006.20 V996.60 H681.00 V1006.20" fill="none" stroke="#000" stroke-width="2.7"/>
<text x="661.80" y="1001.60" font-size="35" text-anchor="middle" font-weight="normal" letter-spacing="1">**</text>
<path d="M736.10,1179.70 V1170.10 H775.50 V1179.70" fill="none" stroke="#000" stroke-width="2.7"/>
<text x="756.30" y="1175.10" font-size="35" text-anchor="middle" font-weight="normal" letter-spacing="1">**</text>
<g fill="#000"><circle cx="628.0" cy="1190.3" r="4.75"/><circle cx="635.4" cy="1190.3" r="4.75"/><circle cx="642.3" cy="1187.0" r="4.75"/><circle cx="649.5" cy="1190.3" r="4.75"/><circle cx="642.3" cy="1198.5" r="4.75"/><circle cx="642.3" cy="1209.5" r="4.75"/><circle cx="655.9" cy="1209.5" r="4.75"/><circle cx="635.4" cy="1213.5" r="4.75"/><circle cx="649.5" cy="1215.0" r="4.75"/><circle cx="628.0" cy="1222.4" r="4.75"/><circle cx="642.3" cy="1220.5" r="4.75"/><circle cx="655.9" cy="1222.4" r="4.75"/><circle cx="635.4" cy="1229.7" r="4.75"/><circle cx="649.1" cy="1229.7" r="4.75"/><circle cx="645.4" cy="1249.3" r="4.75"/><circle cx="637.7" cy="1253.5" r="4.75"/><circle cx="683.7" cy="1019.2" r="4.75"/><circle cx="683.7" cy="1043.1" r="4.75"/><circle cx="683.7" cy="1058.4" r="4.75"/><circle cx="676.4" cy="1124.4" r="4.75"/><circle cx="690.3" cy="1124.4" r="4.75"/><circle cx="683.7" cy="1128.5" r="4.75"/><circle cx="676.4" cy="1136.1" r="4.75"/><circle cx="690.3" cy="1136.1" r="4.75"/><circle cx="683.7" cy="1143.9" r="4.75"/><circle cx="690.3" cy="1159.8" r="4.75"/><circle cx="683.7" cy="1163.2" r="4.75"/><circle cx="676.4" cy="1166.8" r="4.75"/><circle cx="676.6" cy="1190.3" r="4.75"/><circle cx="690.4" cy="1194.5" r="4.75"/><circle cx="669.8" cy="1198.5" r="4.75"/><circle cx="683.6" cy="1198.5" r="4.75"/><circle cx="697.2" cy="1198.5" r="4.75"/><circle cx="683.6" cy="1214.1" r="4.75"/><circle cx="683.6" cy="1237.6" r="4.75"/><circle cx="735.9" cy="1315.5" r="4.75"/><circle cx="742.6" cy="1323.2" r="4.75"/><circle cx="728.9" cy="1331.5" r="4.75"/><circle cx="735.9" cy="1329.6" r="4.75"/><circle cx="749.4" cy="1334.2" r="4.75"/><circle cx="722.1" cy="1338.2" r="4.75"/><circle cx="735.9" cy="1337.0" r="4.75"/><circle cx="742.6" cy="1336.0" r="4.75"/><circle cx="732.6" cy="1342.5" r="4.75"/><circle cx="742.6" cy="1347.1" r="4.75"/><circle cx="728.9" cy="1351.1" r="4.75"/><circle cx="738.1" cy="1351.6" r="4.75"/><circle cx="777.1" cy="1190.3" r="4.75"/><circle cx="777.1" cy="1214.3" r="4.75"/><circle cx="780.2" cy="1228.8" r="4.75"/><circle cx="790.9" cy="1233.7" r="4.75"/><circle cx="763.7" cy="1237.0" r="4.75"/><circle cx="784.8" cy="1235.2" r="4.75"/><circle cx="770.7" cy="1240.7" r="4.75"/><circle cx="780.2" cy="1240.7" r="4.75"/><circle cx="763.7" cy="1253.5" r="4.75"/><circle cx="790.9" cy="1253.5" r="4.75"/><circle cx="777.1" cy="1255.4" r="4.75"/><circle cx="784.8" cy="1260.9" r="4.75"/><circle cx="775.3" cy="1268.2" r="4.75"/><circle cx="785.7" cy="1272.2" r="4.75"/><circle cx="777.1" cy="1284.7" r="4.75"/><circle cx="770.7" cy="1248.0" r="4.75"/></g>
<text x="616.00" y="1415.70" font-size="40" text-anchor="start" font-weight="normal" transform="rotate(45 616.00 1415.70)">LW/BW</text>
<text x="705.80" y="1413.80" font-size="40" text-anchor="start" font-weight="normal" transform="rotate(45 705.80 1413.80)">KW/BW</text>
<text x="824.10" y="836.20" font-size="76" text-anchor="start" font-weight="bold">e</text>
<text x="0" y="0" font-size="39.1" text-anchor="middle" font-weight="normal" transform="translate(1424.50 855.80) scale(1 1.015)">NB-301H-53W</text>
<g transform="translate(1466.30 1468.00)" font-size="39"><text x="47.67" y="0" text-anchor="end">Liver G6Pase-</text><text class="al" transform="translate(46.55 0) scale(1.31 1)" x="0" y="0" font-size="38.22" font-family="&quot;Liberation Serif&quot;, &quot;DejaVu Serif&quot;, serif">α</text><text x="82.41" y="0" text-anchor="start">activity</text></g>
<text x="1476.40" y="1508.30" font-size="39" text-anchor="middle" font-weight="normal">(nmol/min/mg)</text>
<text x="896.10" y="1127.00" font-size="39.8" text-anchor="middle" font-weight="normal" transform="rotate(-90 896.10 1127.00)">LW/BW (%)</text>
<line x1="977.00" y1="1117.90" x2="1214.60" y2="1319.60" stroke="#000" stroke-width="2.4" stroke-linecap="butt"/>
<line x1="977.00" y1="899.35" x2="977.00" y2="1358.50" stroke="#000" stroke-width="1.3" stroke-linecap="butt"/>
<line x1="970.00" y1="1351.00" x2="1214.60" y2="1351.00" stroke="#000" stroke-width="1.3" stroke-linecap="butt"/>
<line x1="970.00" y1="900.00" x2="977.00" y2="900.00" stroke="#000" stroke-width="1.3" stroke-linecap="butt"/>
<text x="0" y="0" font-size="35.4" text-anchor="end" font-weight="normal" transform="translate(952.50 908.30) scale(1 1.015)">12</text>
<line x1="970.00" y1="990.20" x2="977.00" y2="990.20" stroke="#000" stroke-width="1.3" stroke-linecap="butt"/>
<text x="0" y="0" font-size="35.4" text-anchor="end" font-weight="normal" transform="translate(952.50 998.50) scale(1 1.015)">10</text>
<line x1="970.00" y1="1080.40" x2="977.00" y2="1080.40" stroke="#000" stroke-width="1.3" stroke-linecap="butt"/>
<text x="0" y="0" font-size="35.4" text-anchor="end" font-weight="normal" transform="translate(952.50 1088.70) scale(1 1.015)">8</text>
<line x1="970.00" y1="1170.60" x2="977.00" y2="1170.60" stroke="#000" stroke-width="1.3" stroke-linecap="butt"/>
<text x="0" y="0" font-size="35.4" text-anchor="end" font-weight="normal" transform="translate(952.50 1178.90) scale(1 1.015)">6</text>
<line x1="970.00" y1="1260.80" x2="977.00" y2="1260.80" stroke="#000" stroke-width="1.3" stroke-linecap="butt"/>
<text x="0" y="0" font-size="35.4" text-anchor="end" font-weight="normal" transform="translate(952.50 1269.10) scale(1 1.015)">4</text>
<text x="0" y="0" font-size="35.4" text-anchor="end" font-weight="normal" transform="translate(952.50 1359.30) scale(1 1.015)">2</text>
<line x1="980.40" y1="1351.00" x2="980.40" y2="1358.50" stroke="#000" stroke-width="1.3" stroke-linecap="butt"/>
<text x="0" y="0" font-size="35.4" text-anchor="middle" font-weight="normal" transform="translate(980.40 1403.30) scale(1 1.015)">0</text>
<line x1="1051.47" y1="1351.00" x2="1051.47" y2="1358.50" stroke="#000" stroke-width="1.3" stroke-linecap="butt"/>
<text x="0" y="0" font-size="35.4" text-anchor="middle" font-weight="normal" transform="translate(1051.47 1403.30) scale(1 1.015)">100</text>
<line x1="1122.54" y1="1351.00" x2="1122.54" y2="1358.50" stroke="#000" stroke-width="1.3" stroke-linecap="butt"/>
<text x="0" y="0" font-size="35.4" text-anchor="middle" font-weight="normal" transform="translate(1122.54 1403.30) scale(1 1.015)">200</text>
<line x1="1193.61" y1="1351.00" x2="1193.61" y2="1358.50" stroke="#000" stroke-width="1.3" stroke-linecap="butt"/>
<text x="0" y="0" font-size="35.4" text-anchor="middle" font-weight="normal" transform="translate(1193.61 1403.30) scale(1 1.015)">300</text>
<g fill="#000"><circle cx="985.5" cy="1023.1" r="8.6"/><circle cx="981.3" cy="1050.2" r="8.6"/><circle cx="983.8" cy="1067.8" r="8.6"/><circle cx="992.1" cy="1143.2" r="8.6"/><circle cx="988.1" cy="1150.7" r="8.6"/><circle cx="1000.0" cy="1159.0" r="8.6"/><circle cx="993.3" cy="1167.2" r="8.6"/><circle cx="1009.5" cy="1186.4" r="8.6"/><circle cx="1014.7" cy="1189.7" r="8.6"/><circle cx="1031.7" cy="1193.6" r="8.6"/><circle cx="1060.6" cy="1157.0" r="8.6"/><circle cx="1056.5" cy="1222.5" r="8.6"/><circle cx="1070.0" cy="1220.2" r="8.6"/><circle cx="1106.9" cy="1227.0" r="8.6"/><circle cx="1126.1" cy="1229.3" r="8.6"/><circle cx="1106.9" cy="1247.3" r="8.6"/><circle cx="1115.9" cy="1274.2" r="8.6"/><circle cx="1187.0" cy="1230.4" r="8.6"/></g>
<text x="1256.80" y="1122.90" font-size="39" text-anchor="middle" font-weight="normal" transform="rotate(-90 1256.80 1122.90)">Liver glycogen (nmol/mg)</text>
<line x1="1372.20" y1="1123.70" x2="1608.90" y2="1196.00" stroke="#000" stroke-width="2.4" stroke-linecap="butt"/>
<line x1="1372.20" y1="899.95" x2="1372.20" y2="1358.20" stroke="#000" stroke-width="1.3" stroke-linecap="butt"/>
<line x1="1365.20" y1="1350.70" x2="1608.90" y2="1350.70" stroke="#000" stroke-width="1.3" stroke-linecap="butt"/>
<line x1="1365.20" y1="900.60" x2="1372.20" y2="900.60" stroke="#000" stroke-width="1.3" stroke-linecap="butt"/>
<text x="0" y="0" font-size="35.4" text-anchor="end" font-weight="normal" transform="translate(1347.90 908.60) scale(1 1.015)">1000</text>
<line x1="1365.20" y1="956.86" x2="1372.20" y2="956.86" stroke="#000" stroke-width="1.3" stroke-linecap="butt"/>
<text x="0" y="0" font-size="35.4" text-anchor="end" font-weight="normal" transform="translate(1347.90 964.86) scale(1 1.015)">900</text>
<line x1="1365.20" y1="1013.12" x2="1372.20" y2="1013.12" stroke="#000" stroke-width="1.3" stroke-linecap="butt"/>
<text x="0" y="0" font-size="35.4" text-anchor="end" font-weight="normal" transform="translate(1347.90 1021.12) scale(1 1.015)">800</text>
<line x1="1365.20" y1="1069.39" x2="1372.20" y2="1069.39" stroke="#000" stroke-width="1.3" stroke-linecap="butt"/>
<text x="0" y="0" font-size="35.4" text-anchor="end" font-weight="normal" transform="translate(1347.90 1077.39) scale(1 1.015)">700</text>
<line x1="1365.20" y1="1125.65" x2="1372.20" y2="1125.65" stroke="#000" stroke-width="1.3" stroke-linecap="butt"/>
<text x="0" y="0" font-size="35.4" text-anchor="end" font-weight="normal" transform="translate(1347.90 1133.65) scale(1 1.015)">600</text>
<line x1="1365.20" y1="1181.91" x2="1372.20" y2="1181.91" stroke="#000" stroke-width="1.3" stroke-linecap="butt"/>
<text x="0" y="0" font-size="35.4" text-anchor="end" font-weight="normal" transform="translate(1347.90 1189.91) scale(1 1.015)">500</text>
<line x1="1365.20" y1="1238.18" x2="1372.20" y2="1238.18" stroke="#000" stroke-width="1.3" stroke-linecap="butt"/>
<text x="0" y="0" font-size="35.4" text-anchor="end" font-weight="normal" transform="translate(1347.90 1246.18) scale(1 1.015)">400</text>
<line x1="1365.20" y1="1294.44" x2="1372.20" y2="1294.44" stroke="#000" stroke-width="1.3" stroke-linecap="butt"/>
<text x="0" y="0" font-size="35.4" text-anchor="end" font-weight="normal" transform="translate(1347.90 1302.44) scale(1 1.015)">300</text>
<text x="0" y="0" font-size="35.4" text-anchor="end" font-weight="normal" transform="translate(1347.90 1358.70) scale(1 1.015)">200</text>
<line x1="1379.40" y1="1350.70" x2="1379.40" y2="1358.20" stroke="#000" stroke-width="1.3" stroke-linecap="butt"/>
<text x="0" y="0" font-size="35.4" text-anchor="middle" font-weight="normal" transform="translate(1379.40 1403.40) scale(1 1.015)">0</text>
<line x1="1450.00" y1="1350.70" x2="1450.00" y2="1358.20" stroke="#000" stroke-width="1.3" stroke-linecap="butt"/>
<text x="0" y="0" font-size="35.4" text-anchor="middle" font-weight="normal" transform="translate(1450.00 1403.40) scale(1 1.015)">100</text>
<line x1="1520.60" y1="1350.70" x2="1520.60" y2="1358.20" stroke="#000" stroke-width="1.3" stroke-linecap="butt"/>
<text x="0" y="0" font-size="35.4" text-anchor="middle" font-weight="normal" transform="translate(1520.60 1403.40) scale(1 1.015)">200</text>
<line x1="1591.20" y1="1350.70" x2="1591.20" y2="1358.20" stroke="#000" stroke-width="1.3" stroke-linecap="butt"/>
<text x="0" y="0" font-size="35.4" text-anchor="middle" font-weight="normal" transform="translate(1591.20 1403.40) scale(1 1.015)">300</text>
<g fill="#000"><circle cx="1382.4" cy="1042.1" r="8.6"/><circle cx="1408.0" cy="1052.1" r="8.6"/><circle cx="1468.3" cy="1073.0" r="8.6"/><circle cx="1387.7" cy="1078.6" r="8.6"/><circle cx="1384.1" cy="1096.4" r="8.6"/><circle cx="1458.8" cy="1096.0" r="8.6"/><circle cx="1412.8" cy="1130.8" r="8.6"/><circle cx="1504.6" cy="1138.3" r="8.6"/><circle cx="1584.5" cy="1130.4" r="8.6"/><circle cx="1389.6" cy="1149.8" r="8.6"/><circle cx="1379.4" cy="1153.4" r="8.6"/><circle cx="1429.9" cy="1174.2" r="8.6"/><circle cx="1454.3" cy="1179.0" r="8.6"/><circle cx="1391.4" cy="1180.6" r="8.6"/><circle cx="1390.7" cy="1193.2" r="8.6"/><circle cx="1398.3" cy="1205.5" r="8.6"/><circle cx="1514.0" cy="1213.8" r="8.6"/><circle cx="1524.0" cy="1222.8" r="8.6"/><circle cx="1504.6" cy="1235.9" r="8.6"/></g>
<text x="1662.10" y="1123.70" font-size="39" text-anchor="middle" font-weight="normal" transform="rotate(-90 1662.10 1123.70)">Liver G6P (nmol/mg)</text>
<line x1="1750.90" y1="1108.10" x2="1949.60" y2="1350.70" stroke="#000" stroke-width="2.4" stroke-linecap="butt"/>
<line x1="1750.90" y1="900.05" x2="1750.90" y2="1358.40" stroke="#000" stroke-width="1.3" stroke-linecap="butt"/>
<line x1="1743.90" y1="1350.90" x2="1985.10" y2="1350.90" stroke="#000" stroke-width="1.3" stroke-linecap="butt"/>
<line x1="1743.90" y1="900.70" x2="1750.90" y2="900.70" stroke="#000" stroke-width="1.3" stroke-linecap="butt"/>
<text x="0" y="0" font-size="35.4" text-anchor="end" font-weight="normal" transform="translate(1726.30 909.20) scale(1 1.015)">50</text>
<line x1="1743.90" y1="990.74" x2="1750.90" y2="990.74" stroke="#000" stroke-width="1.3" stroke-linecap="butt"/>
<text x="0" y="0" font-size="35.4" text-anchor="end" font-weight="normal" transform="translate(1726.30 999.24) scale(1 1.015)">40</text>
<line x1="1743.90" y1="1080.78" x2="1750.90" y2="1080.78" stroke="#000" stroke-width="1.3" stroke-linecap="butt"/>
<text x="0" y="0" font-size="35.4" text-anchor="end" font-weight="normal" transform="translate(1726.30 1089.28) scale(1 1.015)">30</text>
<line x1="1743.90" y1="1170.82" x2="1750.90" y2="1170.82" stroke="#000" stroke-width="1.3" stroke-linecap="butt"/>
<text x="0" y="0" font-size="35.4" text-anchor="end" font-weight="normal" transform="translate(1726.30 1179.32) scale(1 1.015)">20</text>
<line x1="1743.90" y1="1260.86" x2="1750.90" y2="1260.86" stroke="#000" stroke-width="1.3" stroke-linecap="butt"/>
<text x="0" y="0" font-size="35.4" text-anchor="end" font-weight="normal" transform="translate(1726.30 1269.36) scale(1 1.015)">10</text>
<text x="0" y="0" font-size="35.4" text-anchor="end" font-weight="normal" transform="translate(1726.30 1359.40) scale(1 1.015)">0</text>
<line x1="1757.70" y1="1350.90" x2="1757.70" y2="1358.40" stroke="#000" stroke-width="1.3" stroke-linecap="butt"/>
<text x="0" y="0" font-size="35.4" text-anchor="middle" font-weight="normal" transform="translate(1757.70 1403.40) scale(1 1.015)">0</text>
<line x1="1828.20" y1="1350.90" x2="1828.20" y2="1358.40" stroke="#000" stroke-width="1.3" stroke-linecap="butt"/>
<text x="0" y="0" font-size="35.4" text-anchor="middle" font-weight="normal" transform="translate(1828.20 1403.40) scale(1 1.015)">100</text>
<line x1="1898.70" y1="1350.90" x2="1898.70" y2="1358.40" stroke="#000" stroke-width="1.3" stroke-linecap="butt"/>
<text x="0" y="0" font-size="35.4" text-anchor="middle" font-weight="normal" transform="translate(1898.70 1403.40) scale(1 1.015)">200</text>
<line x1="1969.20" y1="1350.90" x2="1969.20" y2="1358.40" stroke="#000" stroke-width="1.3" stroke-linecap="butt"/>
<text x="0" y="0" font-size="35.4" text-anchor="middle" font-weight="normal" transform="translate(1969.20 1403.40) scale(1 1.015)">300</text>
<g fill="#000"><circle cx="1762.2" cy="966.2" r="8.6"/><circle cx="1760.8" cy="972.3" r="8.6"/><circle cx="1769.8" cy="1018.8" r="8.6"/><circle cx="1766.0" cy="1089.9" r="8.6"/><circle cx="1776.9" cy="1142.9" r="8.6"/><circle cx="1767.1" cy="1168.2" r="8.6"/><circle cx="1791.5" cy="1210.2" r="8.6"/><circle cx="1833.1" cy="1211.1" r="8.6"/><circle cx="1757.7" cy="1218.1" r="8.6"/><circle cx="1770.5" cy="1222.0" r="8.6"/><circle cx="1786.3" cy="1224.7" r="8.6"/><circle cx="1808.2" cy="1249.7" r="8.6"/><circle cx="1837.2" cy="1248.4" r="8.6"/><circle cx="1846.6" cy="1260.4" r="8.6"/><circle cx="1902.7" cy="1265.3" r="8.6"/><circle cx="1892.5" cy="1279.6" r="8.6"/><circle cx="1882.8" cy="1288.1" r="8.6"/><circle cx="1882.8" cy="1296.0" r="8.6"/><circle cx="1963.0" cy="1299.4" r="8.6"/></g>
<text x="90.40" y="1647.50" font-size="77" text-anchor="start" font-weight="normal" class="pl">f</text>
<rect x="523.50" y="1615.60" width="14.50" height="14.50" fill="#fff" stroke="#000" stroke-width="1.8"/>
<rect x="523.50" y="1647.40" width="14.50" height="14.50" fill="#808080" stroke="#000" stroke-width="1.8"/>
<text x="0" y="0" font-size="32.5" text-anchor="start" font-weight="normal" transform="translate(546.50 1634.00) scale(1 1.015)">mR83-53W</text>
<text x="0" y="0" font-size="32.5" text-anchor="start" font-weight="normal" transform="translate(546.50 1665.80) scale(1 1.015)">NB-301H-53W</text>
<text x="155.00" y="1930.50" font-size="39" text-anchor="middle" font-weight="normal" transform="rotate(-90 155.00 1930.50)">Blood glucose (mg/dl)</text>
<path d="M276.20,2168.50 V1857.80 H309.40 V2168.50" fill="#fff" stroke="#000" stroke-width="2.2"/>
<path d="M317.60,2168.50 V1885.40 H350.60 V2168.50" fill="#a2a2a2" stroke="#000" stroke-width="2.2"/>
<line x1="292.70" y1="1847.20" x2="292.70" y2="1867.40" stroke="#000" stroke-width="2.2" stroke-linecap="butt"/>
<line x1="284.20" y1="1847.20" x2="301.20" y2="1847.20" stroke="#000" stroke-width="2.2" stroke-linecap="butt"/>
<line x1="284.20" y1="1867.40" x2="301.20" y2="1867.40" stroke="#000" stroke-width="2.2" stroke-linecap="butt"/>
<line x1="334.10" y1="1874.10" x2="334.10" y2="1895.40" stroke="#000" stroke-width="2.2" stroke-linecap="butt"/>
<line x1="325.60" y1="1874.10" x2="342.60" y2="1874.10" stroke="#000" stroke-width="2.2" stroke-linecap="butt"/>
<line x1="325.60" y1="1895.40" x2="342.60" y2="1895.40" stroke="#000" stroke-width="2.2" stroke-linecap="butt"/>
<line x1="261.20" y1="1699.30" x2="261.20" y2="2169.60" stroke="#000" stroke-width="2.2" stroke-linecap="butt"/>
<line x1="243.20" y1="1700.40" x2="261.20" y2="1700.40" stroke="#000" stroke-width="2.2" stroke-linecap="butt"/>
<text x="0" y="0" font-size="35.4" text-anchor="end" font-weight="normal" transform="translate(237.30 1708.40) scale(1 1.015)">200</text>
<line x1="251.60" y1="1758.91" x2="261.20" y2="1758.91" stroke="#000" stroke-width="2.2" stroke-linecap="butt"/>
<line x1="243.20" y1="1817.43" x2="261.20" y2="1817.43" stroke="#000" stroke-width="2.2" stroke-linecap="butt"/>
<text x="0" y="0" font-size="35.4" text-anchor="end" font-weight="normal" transform="translate(237.30 1825.43) scale(1 1.015)">150</text>
<line x1="251.60" y1="1875.94" x2="261.20" y2="1875.94" stroke="#000" stroke-width="2.2" stroke-linecap="butt"/>
<line x1="243.20" y1="1934.45" x2="261.20" y2="1934.45" stroke="#000" stroke-width="2.2" stroke-linecap="butt"/>
<text x="0" y="0" font-size="35.4" text-anchor="end" font-weight="normal" transform="translate(237.30 1942.45) scale(1 1.015)">100</text>
<line x1="251.60" y1="1992.96" x2="261.20" y2="1992.96" stroke="#000" stroke-width="2.2" stroke-linecap="butt"/>
<line x1="243.20" y1="2051.47" x2="261.20" y2="2051.47" stroke="#000" stroke-width="2.2" stroke-linecap="butt"/>
<text x="0" y="0" font-size="35.4" text-anchor="end" font-weight="normal" transform="translate(237.30 2059.47) scale(1 1.015)">50</text>
<line x1="251.60" y1="2109.99" x2="261.20" y2="2109.99" stroke="#000" stroke-width="2.2" stroke-linecap="butt"/>
<line x1="243.20" y1="2168.50" x2="261.20" y2="2168.50" stroke="#000" stroke-width="2.2" stroke-linecap="butt"/>
<text x="0" y="0" font-size="35.4" text-anchor="end" font-weight="normal" transform="translate(237.30 2176.50) scale(1 1.015)">0</text>
<line x1="243.20" y1="2168.50" x2="367.70" y2="2168.50" stroke="#000" stroke-width="2.2" stroke-linecap="butt"/>
<g fill="#000"><circle cx="292.7" cy="1789.3" r="4.8"/><circle cx="292.7" cy="1798.5" r="4.8"/><circle cx="297.5" cy="1817.7" r="4.8"/><circle cx="288.5" cy="1822.3" r="4.8"/><circle cx="279.8" cy="1840.7" r="4.8"/><circle cx="288.5" cy="1838.2" r="4.8"/><circle cx="297.5" cy="1840.7" r="4.8"/><circle cx="288.5" cy="1847.8" r="4.8"/><circle cx="297.5" cy="1854.5" r="4.8"/><circle cx="288.5" cy="1860.3" r="4.8"/><circle cx="279.8" cy="1882.9" r="4.8"/><circle cx="297.5" cy="1880.4" r="4.8"/><circle cx="288.5" cy="1890.0" r="4.8"/><circle cx="297.5" cy="1890.0" r="4.8"/><circle cx="292.7" cy="1915.5" r="4.8"/><circle cx="292.7" cy="1939.1" r="4.8"/><circle cx="334.1" cy="1749.3" r="4.8"/><circle cx="321.1" cy="1829.0" r="4.8"/><circle cx="338.7" cy="1833.8" r="4.8"/><circle cx="329.7" cy="1838.6" r="4.8"/><circle cx="334.1" cy="1857.0" r="4.8"/><circle cx="321.1" cy="1871.8" r="4.8"/><circle cx="338.7" cy="1875.6" r="4.8"/><circle cx="329.7" cy="1882.9" r="4.8"/><circle cx="338.7" cy="1885.2" r="4.8"/><circle cx="329.7" cy="1892.9" r="4.8"/><circle cx="321.1" cy="1901.8" r="4.8"/><circle cx="338.7" cy="1904.5" r="4.8"/><circle cx="347.4" cy="1901.9" r="4.8"/><circle cx="329.7" cy="1911.4" r="4.8"/><circle cx="338.7" cy="1913.7" r="4.8"/><circle cx="347.4" cy="1929.7" r="4.8"/><circle cx="329.7" cy="1934.5" r="4.8"/><circle cx="338.7" cy="1937.2" r="4.8"/><circle cx="334.1" cy="1962.3" r="4.8"/></g>
<text x="430.10" y="1933.00" font-size="39" text-anchor="middle" font-weight="normal" transform="rotate(-90 430.10 1933.00)">Serum metabolites (mg/dl)</text>
<path d="M556.30,2167.30 V1989.80 H591.30 V2167.30" fill="#fff" stroke="#000" stroke-width="2.2"/>
<path d="M599.60,2167.30 V1963.40 H634.20 V2167.30" fill="#a2a2a2" stroke="#000" stroke-width="2.2"/>
<path d="M646.00,2167.30 V1972.50 H680.90 V2167.30" fill="#fff" stroke="#000" stroke-width="2.2"/>
<path d="M688.90,2167.30 V1917.30 H724.20 V2167.30" fill="#a2a2a2" stroke="#000" stroke-width="2.2"/>
<path d="M734.40,2167.30 V2113.40 H770.00 V2167.30" fill="#fff" stroke="#000" stroke-width="2.2"/>
<path d="M778.50,2167.30 V2106.30 H814.10 V2167.30" fill="#a2a2a2" stroke="#000" stroke-width="2.2"/>
<line x1="573.80" y1="1979.30" x2="573.80" y2="1999.20" stroke="#000" stroke-width="2.2" stroke-linecap="butt"/>
<line x1="564.80" y1="1979.30" x2="582.80" y2="1979.30" stroke="#000" stroke-width="2.2" stroke-linecap="butt"/>
<line x1="564.80" y1="1999.20" x2="582.80" y2="1999.20" stroke="#000" stroke-width="2.2" stroke-linecap="butt"/>
<line x1="616.90" y1="1950.80" x2="616.90" y2="1975.20" stroke="#000" stroke-width="2.2" stroke-linecap="butt"/>
<line x1="607.90" y1="1950.80" x2="625.90" y2="1950.80" stroke="#000" stroke-width="2.2" stroke-linecap="butt"/>
<line x1="607.90" y1="1975.20" x2="625.90" y2="1975.20" stroke="#000" stroke-width="2.2" stroke-linecap="butt"/>
<line x1="663.40" y1="1952.40" x2="663.40" y2="1990.40" stroke="#000" stroke-width="2.2" stroke-linecap="butt"/>
<line x1="654.40" y1="1952.40" x2="672.40" y2="1952.40" stroke="#000" stroke-width="2.2" stroke-linecap="butt"/>
<line x1="654.40" y1="1990.40" x2="672.40" y2="1990.40" stroke="#000" stroke-width="2.2" stroke-linecap="butt"/>
<line x1="706.50" y1="1900.20" x2="706.50" y2="1934.50" stroke="#000" stroke-width="2.2" stroke-linecap="butt"/>
<line x1="697.50" y1="1900.20" x2="715.50" y2="1900.20" stroke="#000" stroke-width="2.2" stroke-linecap="butt"/>
<line x1="697.50" y1="1934.50" x2="715.50" y2="1934.50" stroke="#000" stroke-width="2.2" stroke-linecap="butt"/>
<line x1="752.10" y1="2110.40" x2="752.10" y2="2116.90" stroke="#000" stroke-width="2.2" stroke-linecap="butt"/>
<line x1="743.10" y1="2110.40" x2="761.10" y2="2110.40" stroke="#000" stroke-width="2.2" stroke-linecap="butt"/>
<line x1="743.10" y1="2116.90" x2="761.10" y2="2116.90" stroke="#000" stroke-width="2.2" stroke-linecap="butt"/>
<line x1="796.20" y1="2100.20" x2="796.20" y2="2111.40" stroke="#000" stroke-width="2.2" stroke-linecap="butt"/>
<line x1="787.20" y1="2100.20" x2="805.20" y2="2100.20" stroke="#000" stroke-width="2.2" stroke-linecap="butt"/>
<line x1="787.20" y1="2111.40" x2="805.20" y2="2111.40" stroke="#000" stroke-width="2.2" stroke-linecap="butt"/>
<line x1="540.70" y1="1697.80" x2="540.70" y2="2168.40" stroke="#000" stroke-width="2.2" stroke-linecap="butt"/>
<line x1="521.70" y1="1698.90" x2="540.70" y2="1698.90" stroke="#000" stroke-width="2.2" stroke-linecap="butt"/>
<text x="0" y="0" font-size="35.4" text-anchor="end" font-weight="normal" transform="translate(516.10 1706.90) scale(1 1.015)">300</text>
<line x1="530.70" y1="1737.93" x2="540.70" y2="1737.93" stroke="#000" stroke-width="2.2" stroke-linecap="butt"/>
<line x1="521.70" y1="1776.97" x2="540.70" y2="1776.97" stroke="#000" stroke-width="2.2" stroke-linecap="butt"/>
<text x="0" y="0" font-size="35.4" text-anchor="end" font-weight="normal" transform="translate(516.10 1784.97) scale(1 1.015)">250</text>
<line x1="530.70" y1="1816.00" x2="540.70" y2="1816.00" stroke="#000" stroke-width="2.2" stroke-linecap="butt"/>
<line x1="521.70" y1="1855.03" x2="540.70" y2="1855.03" stroke="#000" stroke-width="2.2" stroke-linecap="butt"/>
<text x="0" y="0" font-size="35.4" text-anchor="end" font-weight="normal" transform="translate(516.10 1863.03) scale(1 1.015)">200</text>
<line x1="530.70" y1="1894.07" x2="540.70" y2="1894.07" stroke="#000" stroke-width="2.2" stroke-linecap="butt"/>
<line x1="521.70" y1="1933.10" x2="540.70" y2="1933.10" stroke="#000" stroke-width="2.2" stroke-linecap="butt"/>
<text x="0" y="0" font-size="35.4" text-anchor="end" font-weight="normal" transform="translate(516.10 1941.10) scale(1 1.015)">150</text>
<line x1="530.70" y1="1972.13" x2="540.70" y2="1972.13" stroke="#000" stroke-width="2.2" stroke-linecap="butt"/>
<line x1="521.70" y1="2011.17" x2="540.70" y2="2011.17" stroke="#000" stroke-width="2.2" stroke-linecap="butt"/>
<text x="0" y="0" font-size="35.4" text-anchor="end" font-weight="normal" transform="translate(516.10 2019.17) scale(1 1.015)">100</text>
<line x1="530.70" y1="2050.20" x2="540.70" y2="2050.20" stroke="#000" stroke-width="2.2" stroke-linecap="butt"/>
<line x1="521.70" y1="2089.23" x2="540.70" y2="2089.23" stroke="#000" stroke-width="2.2" stroke-linecap="butt"/>
<text x="0" y="0" font-size="35.4" text-anchor="end" font-weight="normal" transform="translate(516.10 2097.23) scale(1 1.015)">50</text>
<line x1="530.70" y1="2128.27" x2="540.70" y2="2128.27" stroke="#000" stroke-width="2.2" stroke-linecap="butt"/>
<line x1="521.70" y1="2167.30" x2="540.70" y2="2167.30" stroke="#000" stroke-width="2.2" stroke-linecap="butt"/>
<text x="0" y="0" font-size="35.4" text-anchor="end" font-weight="normal" transform="translate(516.10 2175.30) scale(1 1.015)">0</text>
<line x1="521.70" y1="2167.30" x2="834.00" y2="2167.30" stroke="#000" stroke-width="2.2" stroke-linecap="butt"/>
<path d="M665.40,1783.20 V1773.70 H706.00 V1783.20" fill="none" stroke="#000" stroke-width="2.7"/>
<text x="685.70" y="1778.70" font-size="35" text-anchor="middle" font-weight="normal" letter-spacing="0">*</text>
<g fill="#000"><circle cx="560.0" cy="1932.1" r="4.8"/><circle cx="587.8" cy="1932.1" r="4.8"/><circle cx="578.3" cy="1938.6" r="4.8"/><circle cx="569.1" cy="1959.9" r="4.8"/><circle cx="587.8" cy="1966.4" r="4.8"/><circle cx="560.0" cy="1974.2" r="4.8"/><circle cx="569.1" cy="1974.8" r="4.8"/><circle cx="578.3" cy="1974.2" r="4.8"/><circle cx="560.0" cy="1991.0" r="4.8"/><circle cx="578.3" cy="1992.1" r="4.8"/><circle cx="569.1" cy="1997.1" r="4.8"/><circle cx="578.3" cy="2005.7" r="4.8"/><circle cx="587.8" cy="2030.1" r="4.8"/><circle cx="569.1" cy="2037.8" r="4.8"/><circle cx="578.3" cy="2039.6" r="4.8"/><circle cx="573.8" cy="2075.4" r="4.8"/><circle cx="616.6" cy="1867.8" r="4.8"/><circle cx="616.9" cy="1889.4" r="4.8"/><circle cx="616.9" cy="1899.6" r="4.8"/><circle cx="630.7" cy="1922.7" r="4.8"/><circle cx="602.3" cy="1927.4" r="4.8"/><circle cx="616.9" cy="1930.5" r="4.8"/><circle cx="623.6" cy="1939.6" r="4.8"/><circle cx="609.8" cy="1944.7" r="4.8"/><circle cx="602.3" cy="1956.9" r="4.8"/><circle cx="616.9" cy="1957.5" r="4.8"/><circle cx="630.7" cy="1963.0" r="4.8"/><circle cx="616.9" cy="1969.5" r="4.8"/><circle cx="602.3" cy="1996.1" r="4.8"/><circle cx="616.9" cy="1994.1" r="4.8"/><circle cx="630.7" cy="1996.9" r="4.8"/><circle cx="630.7" cy="2007.1" r="4.8"/><circle cx="616.9" cy="2013.4" r="4.8"/><circle cx="616.9" cy="2029.1" r="4.8"/><circle cx="616.9" cy="2086.6" r="4.8"/><circle cx="663.4" cy="1847.6" r="4.8"/><circle cx="668.0" cy="1864.9" r="4.8"/><circle cx="658.8" cy="1870.8" r="4.8"/><circle cx="659.0" cy="1947.1" r="4.8"/><circle cx="668.3" cy="1948.8" r="4.8"/><circle cx="659.0" cy="1956.9" r="4.8"/><circle cx="659.0" cy="1986.4" r="4.8"/><circle cx="668.3" cy="1990.0" r="4.8"/><circle cx="677.5" cy="1988.4" r="4.8"/><circle cx="649.4" cy="1994.1" r="4.8"/><circle cx="663.4" cy="2024.2" r="4.8"/><circle cx="659.0" cy="2053.5" r="4.8"/><circle cx="668.3" cy="2055.5" r="4.8"/><circle cx="663.4" cy="2069.3" r="4.8"/><circle cx="706.0" cy="1791.4" r="4.8"/><circle cx="701.8" cy="1824.4" r="4.8"/><circle cx="711.3" cy="1829.0" r="4.8"/><circle cx="701.8" cy="1845.6" r="4.8"/><circle cx="711.3" cy="1849.2" r="4.8"/><circle cx="706.2" cy="1858.8" r="4.8"/><circle cx="706.3" cy="1894.5" r="4.8"/><circle cx="711.4" cy="1911.8" r="4.8"/><circle cx="701.9" cy="1917.9" r="4.8"/><circle cx="692.7" cy="1927.4" r="4.8"/><circle cx="720.6" cy="1927.4" r="4.8"/><circle cx="711.4" cy="1932.5" r="4.8"/><circle cx="701.9" cy="1935.1" r="4.8"/><circle cx="706.3" cy="1944.7" r="4.8"/><circle cx="706.3" cy="1968.1" r="4.8"/><circle cx="706.3" cy="1979.3" r="4.8"/><circle cx="701.9" cy="2013.2" r="4.8"/><circle cx="711.4" cy="2014.8" r="4.8"/><circle cx="706.3" cy="2041.3" r="4.8"/><circle cx="753.1" cy="2081.5" r="4.8"/><circle cx="762.7" cy="2095.7" r="4.8"/><circle cx="744.0" cy="2100.2" r="4.8"/><circle cx="753.1" cy="2100.2" r="4.8"/><circle cx="744.0" cy="2109.4" r="4.8"/><circle cx="762.7" cy="2107.3" r="4.8"/><circle cx="753.1" cy="2110.4" r="4.8"/><circle cx="737.9" cy="2116.9" r="4.8"/><circle cx="748.4" cy="2116.5" r="4.8"/><circle cx="758.2" cy="2116.9" r="4.8"/><circle cx="767.3" cy="2118.9" r="4.8"/><circle cx="744.0" cy="2125.6" r="4.8"/><circle cx="753.1" cy="2124.2" r="4.8"/><circle cx="762.7" cy="2128.7" r="4.8"/><circle cx="748.4" cy="2121.6" r="4.8"/><circle cx="787.3" cy="2091.1" r="4.8"/><circle cx="781.6" cy="2098.2" r="4.8"/><circle cx="798.8" cy="2096.2" r="4.8"/><circle cx="810.0" cy="2097.8" r="4.8"/><circle cx="787.3" cy="2105.3" r="4.8"/><circle cx="805.0" cy="2108.3" r="4.8"/><circle cx="781.6" cy="2114.4" r="4.8"/><circle cx="787.3" cy="2116.5" r="4.8"/><circle cx="798.8" cy="2115.5" r="4.8"/><circle cx="810.0" cy="2116.1" r="4.8"/><circle cx="792.7" cy="2123.6" r="4.8"/><circle cx="805.0" cy="2122.6" r="4.8"/><circle cx="788.7" cy="2134.8" r="4.8"/><circle cx="795.8" cy="2134.8" r="4.8"/><circle cx="801.9" cy="2134.8" r="4.8"/><circle cx="798.8" cy="2121.6" r="4.8"/></g>
<text x="547.60" y="2195.80" font-size="39" text-anchor="start" font-weight="normal" transform="rotate(45 547.60 2195.80)">Cholesterol</text>
<text x="647.50" y="2198.70" font-size="39" text-anchor="start" font-weight="normal" transform="rotate(45 647.50 2198.70)">Triglyceride</text>
<text x="740.50" y="2198.60" font-size="39" text-anchor="start" font-weight="normal" transform="rotate(45 740.50 2198.60)">Lactic acid</text>
<path d="M915.10,2168.20 V2011.80 H948.50 V2168.20" fill="#fff" stroke="#000" stroke-width="2.2"/>
<path d="M954.70,2168.20 V1999.30 H988.10 V2168.20" fill="#a2a2a2" stroke="#000" stroke-width="2.2"/>
<line x1="932.10" y1="1994.40" x2="932.10" y2="2027.50" stroke="#000" stroke-width="2.2" stroke-linecap="butt"/>
<line x1="923.60" y1="1994.40" x2="940.60" y2="1994.40" stroke="#000" stroke-width="2.2" stroke-linecap="butt"/>
<line x1="923.60" y1="2027.50" x2="940.60" y2="2027.50" stroke="#000" stroke-width="2.2" stroke-linecap="butt"/>
<line x1="971.40" y1="1981.10" x2="971.40" y2="2015.70" stroke="#000" stroke-width="2.2" stroke-linecap="butt"/>
<line x1="962.90" y1="1981.10" x2="979.90" y2="1981.10" stroke="#000" stroke-width="2.2" stroke-linecap="butt"/>
<line x1="962.90" y1="2015.70" x2="979.90" y2="2015.70" stroke="#000" stroke-width="2.2" stroke-linecap="butt"/>
<line x1="900.00" y1="1698.80" x2="900.00" y2="2169.30" stroke="#000" stroke-width="2.2" stroke-linecap="butt"/>
<line x1="881.80" y1="1699.90" x2="900.00" y2="1699.90" stroke="#000" stroke-width="2.2" stroke-linecap="butt"/>
<text x="0" y="0" font-size="35.4" text-anchor="end" font-weight="normal" transform="translate(876.90 1707.90) scale(1 1.015)">5</text>
<line x1="890.80" y1="1746.73" x2="900.00" y2="1746.73" stroke="#000" stroke-width="2.2" stroke-linecap="butt"/>
<line x1="881.80" y1="1793.56" x2="900.00" y2="1793.56" stroke="#000" stroke-width="2.2" stroke-linecap="butt"/>
<text x="0" y="0" font-size="35.4" text-anchor="end" font-weight="normal" transform="translate(876.90 1801.56) scale(1 1.015)">4</text>
<line x1="890.80" y1="1840.39" x2="900.00" y2="1840.39" stroke="#000" stroke-width="2.2" stroke-linecap="butt"/>
<line x1="881.80" y1="1887.22" x2="900.00" y2="1887.22" stroke="#000" stroke-width="2.2" stroke-linecap="butt"/>
<text x="0" y="0" font-size="35.4" text-anchor="end" font-weight="normal" transform="translate(876.90 1895.22) scale(1 1.015)">3</text>
<line x1="890.80" y1="1934.05" x2="900.00" y2="1934.05" stroke="#000" stroke-width="2.2" stroke-linecap="butt"/>
<line x1="881.80" y1="1980.88" x2="900.00" y2="1980.88" stroke="#000" stroke-width="2.2" stroke-linecap="butt"/>
<text x="0" y="0" font-size="35.4" text-anchor="end" font-weight="normal" transform="translate(876.90 1988.88) scale(1 1.015)">2</text>
<line x1="890.80" y1="2027.71" x2="900.00" y2="2027.71" stroke="#000" stroke-width="2.2" stroke-linecap="butt"/>
<line x1="881.80" y1="2074.54" x2="900.00" y2="2074.54" stroke="#000" stroke-width="2.2" stroke-linecap="butt"/>
<text x="0" y="0" font-size="35.4" text-anchor="end" font-weight="normal" transform="translate(876.90 2082.54) scale(1 1.015)">1</text>
<line x1="890.80" y1="2121.37" x2="900.00" y2="2121.37" stroke="#000" stroke-width="2.2" stroke-linecap="butt"/>
<line x1="881.80" y1="2168.20" x2="900.00" y2="2168.20" stroke="#000" stroke-width="2.2" stroke-linecap="butt"/>
<text x="0" y="0" font-size="35.4" text-anchor="end" font-weight="normal" transform="translate(876.90 2176.20) scale(1 1.015)">0</text>
<line x1="881.80" y1="2168.20" x2="1006.90" y2="2168.20" stroke="#000" stroke-width="2.2" stroke-linecap="butt"/>
<g fill="#000"><circle cx="932.1" cy="1859.6" r="4.7"/><circle cx="932.1" cy="1925.3" r="4.7"/><circle cx="932.1" cy="1944.1" r="4.7"/><circle cx="932.1" cy="1971.7" r="4.7"/><circle cx="932.1" cy="1999.6" r="4.7"/><circle cx="918.5" cy="2019.1" r="4.7"/><circle cx="932.1" cy="2019.1" r="4.7"/><circle cx="945.6" cy="2019.1" r="4.7"/><circle cx="932.1" cy="2028.0" r="4.7"/><circle cx="925.6" cy="2046.5" r="4.7"/><circle cx="939.1" cy="2046.5" r="4.7"/><circle cx="925.6" cy="2056.1" r="4.7"/><circle cx="939.1" cy="2056.1" r="4.7"/><circle cx="932.1" cy="2065.5" r="4.7"/><circle cx="932.1" cy="2112.4" r="4.7"/><circle cx="971.4" cy="1869.0" r="4.7"/><circle cx="964.6" cy="1888.0" r="4.7"/><circle cx="977.7" cy="1888.0" r="4.7"/><circle cx="971.4" cy="1925.3" r="4.7"/><circle cx="971.4" cy="1953.2" r="4.7"/><circle cx="964.6" cy="1971.7" r="4.7"/><circle cx="977.7" cy="1971.7" r="4.7"/><circle cx="971.4" cy="1981.1" r="4.7"/><circle cx="971.4" cy="1991.0" r="4.7"/><circle cx="971.4" cy="2009.2" r="4.7"/><circle cx="971.4" cy="2028.0" r="4.7"/><circle cx="958.1" cy="2056.1" r="4.7"/><circle cx="971.4" cy="2056.1" r="4.7"/><circle cx="984.7" cy="2056.1" r="4.7"/><circle cx="971.4" cy="2065.5" r="4.7"/><circle cx="971.4" cy="2074.9" r="4.7"/><circle cx="971.4" cy="2084.8" r="4.7"/><circle cx="971.4" cy="2103.1" r="4.7"/></g>
<text x="907.00" y="2200.70" font-size="39" text-anchor="start" font-weight="normal" transform="rotate(45 907.00 2200.70)">Uric acid</text>
<text x="1107.20" y="1647.60" font-size="77" text-anchor="start" font-weight="normal" class="pl">g</text>
<rect x="1407.10" y="1616.10" width="14.50" height="14.50" fill="#fff" stroke="#000" stroke-width="1.8"/>
<rect x="1407.10" y="1648.30" width="14.50" height="14.50" fill="#808080" stroke="#000" stroke-width="1.8"/>
<text x="0" y="0" font-size="32.5" text-anchor="start" font-weight="normal" transform="translate(1430.20 1634.60) scale(1 1.015)">mR83-53W</text>
<text x="0" y="0" font-size="32.5" text-anchor="start" font-weight="normal" transform="translate(1430.20 1666.80) scale(1 1.015)">NB-301H-53W</text>
<text x="1182.80" y="1921.50" font-size="39" text-anchor="middle" font-weight="normal" transform="rotate(-90 1182.80 1921.50)">Liver metabolites (nmol/mg)</text>
<path d="M1317.90,2163.90 V2051.30 H1353.50 V2163.90" fill="#fff" stroke="#000" stroke-width="2.2"/>
<path d="M1361.30,2163.90 V2103.70 H1396.90 V2163.90" fill="#a2a2a2" stroke="#000" stroke-width="2.2"/>
<path d="M1408.50,2163.90 V2053.70 H1444.10 V2163.90" fill="#fff" stroke="#000" stroke-width="2.2"/>
<path d="M1451.90,2163.90 V2021.20 H1488.00 V2163.90" fill="#a2a2a2" stroke="#000" stroke-width="2.2"/>
<path d="M1499.40,2163.90 V2076.90 H1534.90 V2163.90" fill="#fff" stroke="#000" stroke-width="2.2"/>
<path d="M1542.50,2163.90 V2078.10 H1578.10 V2163.90" fill="#a2a2a2" stroke="#000" stroke-width="2.2"/>
<path d="M1589.50,2163.90 V2129.10 H1625.00 V2163.90" fill="#fff" stroke="#000" stroke-width="2.2"/>
<path d="M1632.90,2163.90 V2124.30 H1668.40 V2163.90" fill="#a2a2a2" stroke="#000" stroke-width="2.2"/>
<line x1="1335.70" y1="2045.30" x2="1335.70" y2="2056.70" stroke="#000" stroke-width="2.2" stroke-linecap="butt"/>
<line x1="1326.70" y1="2045.30" x2="1344.70" y2="2045.30" stroke="#000" stroke-width="2.2" stroke-linecap="butt"/>
<line x1="1326.70" y1="2056.70" x2="1344.70" y2="2056.70" stroke="#000" stroke-width="2.2" stroke-linecap="butt"/>
<line x1="1379.10" y1="2095.40" x2="1379.10" y2="2110.10" stroke="#000" stroke-width="2.2" stroke-linecap="butt"/>
<line x1="1370.10" y1="2095.40" x2="1388.10" y2="2095.40" stroke="#000" stroke-width="2.2" stroke-linecap="butt"/>
<line x1="1370.10" y1="2110.10" x2="1388.10" y2="2110.10" stroke="#000" stroke-width="2.2" stroke-linecap="butt"/>
<line x1="1426.30" y1="2040.10" x2="1426.30" y2="2065.00" stroke="#000" stroke-width="2.2" stroke-linecap="butt"/>
<line x1="1417.30" y1="2040.10" x2="1435.30" y2="2040.10" stroke="#000" stroke-width="2.2" stroke-linecap="butt"/>
<line x1="1417.30" y1="2065.00" x2="1435.30" y2="2065.00" stroke="#000" stroke-width="2.2" stroke-linecap="butt"/>
<line x1="1469.70" y1="2013.30" x2="1469.70" y2="2027.60" stroke="#000" stroke-width="2.2" stroke-linecap="butt"/>
<line x1="1460.70" y1="2013.30" x2="1478.70" y2="2013.30" stroke="#000" stroke-width="2.2" stroke-linecap="butt"/>
<line x1="1460.70" y1="2027.60" x2="1478.70" y2="2027.60" stroke="#000" stroke-width="2.2" stroke-linecap="butt"/>
<line x1="1517.10" y1="2051.30" x2="1517.10" y2="2102.50" stroke="#000" stroke-width="2.2" stroke-linecap="butt"/>
<line x1="1508.10" y1="2051.30" x2="1526.10" y2="2051.30" stroke="#000" stroke-width="2.2" stroke-linecap="butt"/>
<line x1="1508.10" y1="2102.50" x2="1526.10" y2="2102.50" stroke="#000" stroke-width="2.2" stroke-linecap="butt"/>
<line x1="1560.30" y1="2056.00" x2="1560.30" y2="2097.00" stroke="#000" stroke-width="2.2" stroke-linecap="butt"/>
<line x1="1551.30" y1="2056.00" x2="1569.30" y2="2056.00" stroke="#000" stroke-width="2.2" stroke-linecap="butt"/>
<line x1="1551.30" y1="2097.00" x2="1569.30" y2="2097.00" stroke="#000" stroke-width="2.2" stroke-linecap="butt"/>
<line x1="1607.20" y1="2126.00" x2="1607.20" y2="2132.20" stroke="#000" stroke-width="2.2" stroke-linecap="butt"/>
<line x1="1598.20" y1="2126.00" x2="1616.20" y2="2126.00" stroke="#000" stroke-width="2.2" stroke-linecap="butt"/>
<line x1="1598.20" y1="2132.20" x2="1616.20" y2="2132.20" stroke="#000" stroke-width="2.2" stroke-linecap="butt"/>
<line x1="1650.60" y1="2120.80" x2="1650.60" y2="2127.90" stroke="#000" stroke-width="2.2" stroke-linecap="butt"/>
<line x1="1641.60" y1="2120.80" x2="1659.60" y2="2120.80" stroke="#000" stroke-width="2.2" stroke-linecap="butt"/>
<line x1="1641.60" y1="2127.90" x2="1659.60" y2="2127.90" stroke="#000" stroke-width="2.2" stroke-linecap="butt"/>
<line x1="1302.50" y1="1695.00" x2="1302.50" y2="2165.00" stroke="#000" stroke-width="2.2" stroke-linecap="butt"/>
<line x1="1284.00" y1="1696.10" x2="1302.50" y2="1696.10" stroke="#000" stroke-width="2.2" stroke-linecap="butt"/>
<text x="0" y="0" font-size="35.4" text-anchor="end" font-weight="normal" transform="translate(1279.00 1705.10) scale(1 1.015)">1400</text>
<line x1="1292.80" y1="1729.51" x2="1302.50" y2="1729.51" stroke="#000" stroke-width="2.2" stroke-linecap="butt"/>
<line x1="1284.00" y1="1762.93" x2="1302.50" y2="1762.93" stroke="#000" stroke-width="2.2" stroke-linecap="butt"/>
<text x="0" y="0" font-size="35.4" text-anchor="end" font-weight="normal" transform="translate(1279.00 1771.93) scale(1 1.015)">1200</text>
<line x1="1292.80" y1="1796.34" x2="1302.50" y2="1796.34" stroke="#000" stroke-width="2.2" stroke-linecap="butt"/>
<line x1="1284.00" y1="1829.76" x2="1302.50" y2="1829.76" stroke="#000" stroke-width="2.2" stroke-linecap="butt"/>
<text x="0" y="0" font-size="35.4" text-anchor="end" font-weight="normal" transform="translate(1279.00 1838.76) scale(1 1.015)">1000</text>
<line x1="1292.80" y1="1863.17" x2="1302.50" y2="1863.17" stroke="#000" stroke-width="2.2" stroke-linecap="butt"/>
<line x1="1284.00" y1="1896.59" x2="1302.50" y2="1896.59" stroke="#000" stroke-width="2.2" stroke-linecap="butt"/>
<text x="0" y="0" font-size="35.4" text-anchor="end" font-weight="normal" transform="translate(1279.00 1905.59) scale(1 1.015)">800</text>
<line x1="1292.80" y1="1930.00" x2="1302.50" y2="1930.00" stroke="#000" stroke-width="2.2" stroke-linecap="butt"/>
<line x1="1284.00" y1="1963.41" x2="1302.50" y2="1963.41" stroke="#000" stroke-width="2.2" stroke-linecap="butt"/>
<text x="0" y="0" font-size="35.4" text-anchor="end" font-weight="normal" transform="translate(1279.00 1972.41) scale(1 1.015)">600</text>
<line x1="1292.80" y1="1996.83" x2="1302.50" y2="1996.83" stroke="#000" stroke-width="2.2" stroke-linecap="butt"/>
<line x1="1284.00" y1="2030.24" x2="1302.50" y2="2030.24" stroke="#000" stroke-width="2.2" stroke-linecap="butt"/>
<text x="0" y="0" font-size="35.4" text-anchor="end" font-weight="normal" transform="translate(1279.00 2039.24) scale(1 1.015)">400</text>
<line x1="1292.80" y1="2063.66" x2="1302.50" y2="2063.66" stroke="#000" stroke-width="2.2" stroke-linecap="butt"/>
<line x1="1284.00" y1="2097.07" x2="1302.50" y2="2097.07" stroke="#000" stroke-width="2.2" stroke-linecap="butt"/>
<text x="0" y="0" font-size="35.4" text-anchor="end" font-weight="normal" transform="translate(1279.00 2106.07) scale(1 1.015)">200</text>
<line x1="1292.80" y1="2130.49" x2="1302.50" y2="2130.49" stroke="#000" stroke-width="2.2" stroke-linecap="butt"/>
<line x1="1284.00" y1="2163.90" x2="1302.50" y2="2163.90" stroke="#000" stroke-width="2.2" stroke-linecap="butt"/>
<text x="0" y="0" font-size="35.4" text-anchor="end" font-weight="normal" transform="translate(1279.00 2172.90) scale(1 1.015)">0</text>
<line x1="1284.00" y1="2163.90" x2="1689.80" y2="2163.90" stroke="#000" stroke-width="2.2" stroke-linecap="butt"/>
<path d="M1335.70,2011.50 V2002.20 H1375.30 V2011.50" fill="none" stroke="#000" stroke-width="2.7"/>
<text x="1356.00" y="2007.20" font-size="35" text-anchor="middle" font-weight="normal" letter-spacing="1">**</text>
<path d="M1427.00,1938.50 V1929.20 H1466.60 V1938.50" fill="none" stroke="#000" stroke-width="2.7"/>
<text x="1446.80" y="1934.20" font-size="35" text-anchor="middle" font-weight="normal" letter-spacing="0">*</text>
<g fill="#000"><circle cx="1333.4" cy="2025.2" r="4.9"/><circle cx="1344.5" cy="2024.7" r="4.9"/><circle cx="1350.4" cy="2024.2" r="4.9"/><circle cx="1327.0" cy="2029.5" r="4.9"/><circle cx="1321.5" cy="2033.7" r="4.9"/><circle cx="1339.3" cy="2033.0" r="4.9"/><circle cx="1344.5" cy="2037.1" r="4.9"/><circle cx="1327.0" cy="2039.7" r="4.9"/><circle cx="1339.3" cy="2041.3" r="4.9"/><circle cx="1344.5" cy="2046.1" r="4.9"/><circle cx="1335.7" cy="2050.8" r="4.9"/><circle cx="1333.4" cy="2059.1" r="4.9"/><circle cx="1338.6" cy="2063.8" r="4.9"/><circle cx="1333.4" cy="2074.0" r="4.9"/><circle cx="1338.6" cy="2079.7" r="4.9"/><circle cx="1335.7" cy="2131.4" r="4.9"/><circle cx="1379.1" cy="2045.3" r="4.9"/><circle cx="1383.9" cy="2059.6" r="4.9"/><circle cx="1365.4" cy="2063.1" r="4.9"/><circle cx="1393.4" cy="2063.8" r="4.9"/><circle cx="1374.4" cy="2066.7" r="4.9"/><circle cx="1379.1" cy="2080.4" r="4.9"/><circle cx="1365.4" cy="2094.2" r="4.9"/><circle cx="1393.4" cy="2100.6" r="4.9"/><circle cx="1374.4" cy="2099.4" r="4.9"/><circle cx="1383.9" cy="2099.4" r="4.9"/><circle cx="1365.4" cy="2107.0" r="4.9"/><circle cx="1374.4" cy="2113.6" r="4.9"/><circle cx="1383.9" cy="2115.3" r="4.9"/><circle cx="1383.9" cy="2127.4" r="4.9"/><circle cx="1374.4" cy="2129.0" r="4.9"/><circle cx="1365.4" cy="2136.9" r="4.9"/><circle cx="1393.4" cy="2145.7" r="4.9"/><circle cx="1365.4" cy="2149.7" r="4.9"/><circle cx="1383.9" cy="2149.7" r="4.9"/><circle cx="1426.3" cy="1948.4" r="4.9"/><circle cx="1426.3" cy="1980.1" r="4.9"/><circle cx="1426.3" cy="2002.9" r="4.9"/><circle cx="1426.3" cy="2024.7" r="4.9"/><circle cx="1412.3" cy="2033.7" r="4.9"/><circle cx="1440.8" cy="2035.9" r="4.9"/><circle cx="1412.3" cy="2043.2" r="4.9"/><circle cx="1426.3" cy="2043.7" r="4.9"/><circle cx="1412.3" cy="2056.3" r="4.9"/><circle cx="1426.3" cy="2060.8" r="4.9"/><circle cx="1440.8" cy="2080.4" r="4.9"/><circle cx="1412.3" cy="2085.2" r="4.9"/><circle cx="1426.3" cy="2087.6" r="4.9"/><circle cx="1419.4" cy="2097.0" r="4.9"/><circle cx="1433.0" cy="2101.3" r="4.9"/><circle cx="1426.3" cy="2160.4" r="4.9"/><circle cx="1455.5" cy="1978.0" r="4.9"/><circle cx="1465.0" cy="1980.1" r="4.9"/><circle cx="1484.4" cy="1977.3" r="4.9"/><circle cx="1474.5" cy="1984.4" r="4.9"/><circle cx="1455.5" cy="1992.7" r="4.9"/><circle cx="1484.4" cy="1999.1" r="4.9"/><circle cx="1474.5" cy="2002.2" r="4.9"/><circle cx="1455.5" cy="2006.2" r="4.9"/><circle cx="1465.0" cy="2005.8" r="4.9"/><circle cx="1474.5" cy="2012.9" r="4.9"/><circle cx="1469.7" cy="2022.3" r="4.9"/><circle cx="1460.2" cy="2036.6" r="4.9"/><circle cx="1469.7" cy="2035.4" r="4.9"/><circle cx="1479.2" cy="2039.7" r="4.9"/><circle cx="1474.5" cy="2055.5" r="4.9"/><circle cx="1455.5" cy="2060.3" r="4.9"/><circle cx="1484.4" cy="2060.3" r="4.9"/><circle cx="1474.5" cy="2067.9" r="4.9"/><circle cx="1465.0" cy="2073.3" r="4.9"/><circle cx="1517.1" cy="1755.6" r="4.9"/><circle cx="1517.1" cy="1965.0" r="4.9"/><circle cx="1517.1" cy="2035.9" r="4.9"/><circle cx="1517.1" cy="2063.4" r="4.9"/><circle cx="1511.9" cy="2090.4" r="4.9"/><circle cx="1502.9" cy="2096.3" r="4.9"/><circle cx="1511.9" cy="2101.8" r="4.9"/><circle cx="1521.9" cy="2101.8" r="4.9"/><circle cx="1530.9" cy="2106.5" r="4.9"/><circle cx="1502.9" cy="2108.4" r="4.9"/><circle cx="1521.9" cy="2113.6" r="4.9"/><circle cx="1511.9" cy="2122.4" r="4.9"/><circle cx="1521.9" cy="2129.0" r="4.9"/><circle cx="1511.9" cy="2135.0" r="4.9"/><circle cx="1521.9" cy="2140.9" r="4.9"/><circle cx="1511.9" cy="2146.4" r="4.9"/><circle cx="1560.3" cy="1841.7" r="4.9"/><circle cx="1560.3" cy="1882.4" r="4.9"/><circle cx="1560.3" cy="1953.1" r="4.9"/><circle cx="1560.3" cy="2028.8" r="4.9"/><circle cx="1560.3" cy="2044.9" r="4.9"/><circle cx="1560.3" cy="2061.5" r="4.9"/><circle cx="1551.0" cy="2109.6" r="4.9"/><circle cx="1560.3" cy="2108.2" r="4.9"/><circle cx="1569.3" cy="2107.7" r="4.9"/><circle cx="1565.0" cy="2119.6" r="4.9"/><circle cx="1546.1" cy="2122.7" r="4.9"/><circle cx="1555.5" cy="2122.7" r="4.9"/><circle cx="1574.8" cy="2120.8" r="4.9"/><circle cx="1574.8" cy="2130.2" r="4.9"/><circle cx="1546.1" cy="2135.0" r="4.9"/><circle cx="1565.0" cy="2134.5" r="4.9"/><circle cx="1574.8" cy="2143.3" r="4.9"/><circle cx="1546.1" cy="2147.6" r="4.9"/><circle cx="1565.0" cy="2146.1" r="4.9"/><circle cx="1607.2" cy="2084.0" r="4.9"/><circle cx="1612.0" cy="2119.6" r="4.9"/><circle cx="1598.5" cy="2124.3" r="4.9"/><circle cx="1616.7" cy="2123.1" r="4.9"/><circle cx="1593.0" cy="2129.1" r="4.9"/><circle cx="1607.2" cy="2129.5" r="4.9"/><circle cx="1598.5" cy="2133.8" r="4.9"/><circle cx="1612.0" cy="2134.5" r="4.9"/><circle cx="1621.5" cy="2133.8" r="4.9"/><circle cx="1607.2" cy="2142.1" r="4.9"/><circle cx="1598.5" cy="2145.7" r="4.9"/><circle cx="1616.7" cy="2146.1" r="4.9"/><circle cx="1650.6" cy="2091.6" r="4.9"/><circle cx="1655.1" cy="2102.3" r="4.9"/><circle cx="1650.6" cy="2110.1" r="4.9"/><circle cx="1641.2" cy="2116.5" r="4.9"/><circle cx="1655.1" cy="2117.9" r="4.9"/><circle cx="1664.6" cy="2120.8" r="4.9"/><circle cx="1636.4" cy="2123.8" r="4.9"/><circle cx="1645.9" cy="2125.5" r="4.9"/><circle cx="1659.9" cy="2125.0" r="4.9"/><circle cx="1650.6" cy="2131.4" r="4.9"/><circle cx="1664.6" cy="2131.4" r="4.9"/><circle cx="1645.9" cy="2136.2" r="4.9"/><circle cx="1655.1" cy="2136.2" r="4.9"/><circle cx="1641.2" cy="2140.2" r="4.9"/><circle cx="1650.6" cy="2140.9" r="4.9"/><circle cx="1659.9" cy="2141.4" r="4.9"/></g>
<text x="1312.50" y="2195.40" font-size="39" text-anchor="start" font-weight="normal" transform="rotate(45 1312.50 2195.40)">Glucose</text>
<text x="1404.00" y="2194.30" font-size="39" text-anchor="start" font-weight="normal" transform="rotate(45 1404.00 2194.30)">Glycogen</text>
<text x="1498.00" y="2198.70" font-size="39" text-anchor="start" font-weight="normal" transform="rotate(45 1498.00 2198.70)">Triglyceride</text>
<text x="1589.00" y="2200.40" font-size="39" text-anchor="start" font-weight="normal" transform="rotate(45 1589.00 2200.40)">Lactic acid</text>
<path d="M1768.90,2162.50 V2119.00 H1803.30 V2162.50" fill="#fff" stroke="#000" stroke-width="1.4"/>
<path d="M1809.90,2162.50 V2024.60 H1844.50 V2162.50" fill="#a2a2a2" stroke="#000" stroke-width="1.4"/>
<line x1="1786.10" y1="2115.80" x2="1786.10" y2="2121.60" stroke="#000" stroke-width="2.2" stroke-linecap="butt"/>
<line x1="1778.10" y1="2115.80" x2="1794.10" y2="2115.80" stroke="#000" stroke-width="2.2" stroke-linecap="butt"/>
<line x1="1778.10" y1="2121.60" x2="1794.10" y2="2121.60" stroke="#000" stroke-width="2.2" stroke-linecap="butt"/>
<line x1="1827.10" y1="2003.00" x2="1827.10" y2="2045.20" stroke="#000" stroke-width="2.2" stroke-linecap="butt"/>
<line x1="1819.10" y1="2003.00" x2="1835.10" y2="2003.00" stroke="#000" stroke-width="2.2" stroke-linecap="butt"/>
<line x1="1819.10" y1="2045.20" x2="1835.10" y2="2045.20" stroke="#000" stroke-width="2.2" stroke-linecap="butt"/>
<line x1="1754.60" y1="1693.50" x2="1754.60" y2="2163.60" stroke="#000" stroke-width="2.2" stroke-linecap="butt"/>
<line x1="1736.40" y1="1694.60" x2="1754.60" y2="1694.60" stroke="#000" stroke-width="2.2" stroke-linecap="butt"/>
<text x="0" y="0" font-size="35.4" text-anchor="end" font-weight="normal" transform="translate(1731.20 1703.60) scale(1 1.015)">60</text>
<line x1="1745.40" y1="1733.59" x2="1754.60" y2="1733.59" stroke="#000" stroke-width="2.2" stroke-linecap="butt"/>
<line x1="1736.40" y1="1772.58" x2="1754.60" y2="1772.58" stroke="#000" stroke-width="2.2" stroke-linecap="butt"/>
<text x="0" y="0" font-size="35.4" text-anchor="end" font-weight="normal" transform="translate(1731.20 1781.58) scale(1 1.015)">50</text>
<line x1="1745.40" y1="1811.57" x2="1754.60" y2="1811.57" stroke="#000" stroke-width="2.2" stroke-linecap="butt"/>
<line x1="1736.40" y1="1850.57" x2="1754.60" y2="1850.57" stroke="#000" stroke-width="2.2" stroke-linecap="butt"/>
<text x="0" y="0" font-size="35.4" text-anchor="end" font-weight="normal" transform="translate(1731.20 1859.57) scale(1 1.015)">40</text>
<line x1="1745.40" y1="1889.56" x2="1754.60" y2="1889.56" stroke="#000" stroke-width="2.2" stroke-linecap="butt"/>
<line x1="1736.40" y1="1928.55" x2="1754.60" y2="1928.55" stroke="#000" stroke-width="2.2" stroke-linecap="butt"/>
<text x="0" y="0" font-size="35.4" text-anchor="end" font-weight="normal" transform="translate(1731.20 1937.55) scale(1 1.015)">30</text>
<line x1="1745.40" y1="1967.54" x2="1754.60" y2="1967.54" stroke="#000" stroke-width="2.2" stroke-linecap="butt"/>
<line x1="1736.40" y1="2006.53" x2="1754.60" y2="2006.53" stroke="#000" stroke-width="2.2" stroke-linecap="butt"/>
<text x="0" y="0" font-size="35.4" text-anchor="end" font-weight="normal" transform="translate(1731.20 2015.53) scale(1 1.015)">20</text>
<line x1="1745.40" y1="2045.53" x2="1754.60" y2="2045.53" stroke="#000" stroke-width="2.2" stroke-linecap="butt"/>
<line x1="1736.40" y1="2084.52" x2="1754.60" y2="2084.52" stroke="#000" stroke-width="2.2" stroke-linecap="butt"/>
<text x="0" y="0" font-size="35.4" text-anchor="end" font-weight="normal" transform="translate(1731.20 2093.52) scale(1 1.015)">10</text>
<line x1="1745.40" y1="2123.51" x2="1754.60" y2="2123.51" stroke="#000" stroke-width="2.2" stroke-linecap="butt"/>
<line x1="1736.40" y1="2162.50" x2="1754.60" y2="2162.50" stroke="#000" stroke-width="2.2" stroke-linecap="butt"/>
<text x="0" y="0" font-size="35.4" text-anchor="end" font-weight="normal" transform="translate(1731.20 2171.50) scale(1 1.015)">0</text>
<line x1="1736.40" y1="2162.50" x2="1860.70" y2="2162.50" stroke="#000" stroke-width="2.2" stroke-linecap="butt"/>
<path d="M1787.70,1817.30 V1808.00 H1828.10 V1817.30" fill="none" stroke="#000" stroke-width="2.7"/>
<text x="1808.40" y="1813.00" font-size="35" text-anchor="middle" font-weight="normal" letter-spacing="1">**</text>
<g fill="#000"><circle cx="1820.3" cy="1833.3" r="4.7"/><circle cx="1833.3" cy="1829.4" r="4.7"/><circle cx="1827.1" cy="1875.3" r="4.7"/><circle cx="1827.1" cy="1935.7" r="4.7"/><circle cx="1827.1" cy="1982.4" r="4.7"/><circle cx="1827.1" cy="2004.0" r="4.7"/><circle cx="1813.8" cy="2041.3" r="4.7"/><circle cx="1827.1" cy="2040.5" r="4.7"/><circle cx="1839.8" cy="2047.0" r="4.7"/><circle cx="1813.8" cy="2050.9" r="4.7"/><circle cx="1827.1" cy="2053.5" r="4.7"/><circle cx="1820.3" cy="2073.9" r="4.7"/><circle cx="1833.3" cy="2073.1" r="4.7"/><circle cx="1833.3" cy="2084.0" r="4.7"/><circle cx="1820.3" cy="2088.2" r="4.7"/><circle cx="1839.8" cy="2100.4" r="4.7"/><circle cx="1827.1" cy="2108.8" r="4.7"/><circle cx="1813.8" cy="2117.9" r="4.7"/><circle cx="1839.8" cy="2115.6" r="4.7"/><circle cx="1787.7" cy="2104.4" r="4.7"/><circle cx="1782.5" cy="2109.6" r="4.7"/><circle cx="1791.6" cy="2109.6" r="4.7"/><circle cx="1777.3" cy="2114.8" r="4.7"/><circle cx="1786.4" cy="2114.8" r="4.7"/><circle cx="1795.0" cy="2113.5" r="4.7"/><circle cx="1774.7" cy="2120.8" r="4.7"/><circle cx="1782.5" cy="2120.8" r="4.7"/><circle cx="1790.3" cy="2120.0" r="4.7"/><circle cx="1798.1" cy="2120.8" r="4.7"/><circle cx="1773.9" cy="2125.7" r="4.7"/><circle cx="1780.4" cy="2125.2" r="4.7"/><circle cx="1794.2" cy="2126.5" r="4.7"/><circle cx="1800.7" cy="2125.2" r="4.7"/><circle cx="1787.2" cy="2128.6" r="4.7"/><circle cx="1786.4" cy="2138.2" r="4.7"/></g>
<text x="1765.30" y="2193.90" font-size="39" text-anchor="start" font-weight="normal" transform="rotate(45 1765.30 2193.90)">G6P</text>
</svg>
</body>
</html>
